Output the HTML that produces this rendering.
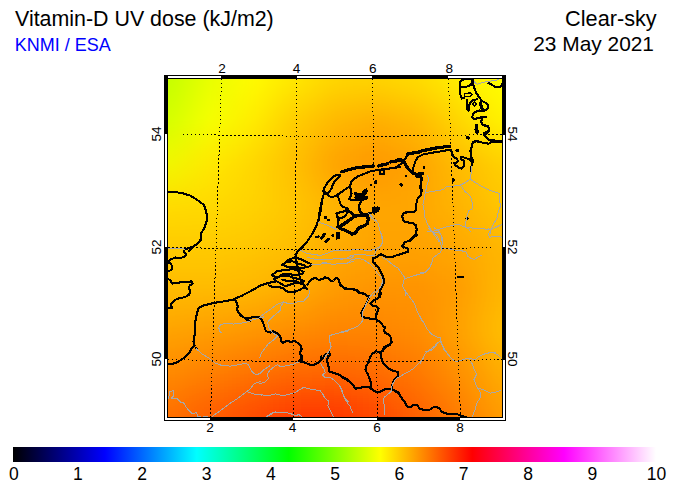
<!DOCTYPE html>
<html><head><meta charset="utf-8"><title>Vitamin-D UV dose</title>
<style>
html,body{margin:0;padding:0;background:#fff;}
body{width:675px;height:490px;overflow:hidden;position:relative;font-family:"Liberation Sans",sans-serif;}
svg{position:absolute;left:0;top:0;}
text{font-family:"Liberation Sans",sans-serif;fill:#000;}
</style></head><body>
<svg width="675" height="490" viewBox="0 0 675 490">
<defs>
<filter id="bl" x="-10%" y="-10%" width="120%" height="120%"><feGaussianBlur stdDeviation="7"/></filter>
<clipPath id="mc"><rect x="168" y="79" width="334" height="338"/></clipPath>
<linearGradient id="cb" x1="0" x2="1" y1="0" y2="0">
<stop offset="0" stop-color="#000000"/>
<stop offset="0.142857" stop-color="#0000ff"/>
<stop offset="0.285714" stop-color="#00ffff"/>
<stop offset="0.428571" stop-color="#00ff00"/>
<stop offset="0.571429" stop-color="#ffff00"/>
<stop offset="0.714286" stop-color="#ff0000"/>
<stop offset="0.857143" stop-color="#ff00ff"/>
<stop offset="1" stop-color="#ffffff"/>
</linearGradient>
</defs>
<!-- titles -->
<text x="15" y="25.5" font-size="21.4">Vitamin-D UV dose (kJ/m2)</text>
<text x="14.7" y="51" font-size="18" style="fill:#0000ff">KNMI / ESA</text>
<text x="656.7" y="25.5" font-size="21.7" text-anchor="end">Clear-sky</text>
<text x="654" y="50.5" font-size="20.9" text-anchor="end">23 May 2021</text>
<!-- map background -->
<g clip-path="url(#mc)">
<rect x="168" y="79" width="334" height="338" fill="#ffb400"/>
<g filter="url(#bl)">
<rect x="144" y="55" width="12.5" height="12.5" fill="#c3ff00"/>
<rect x="156" y="55" width="12.5" height="12.5" fill="#c3ff00"/>
<rect x="168" y="55" width="12.5" height="12.5" fill="#c8ff00"/>
<rect x="180" y="55" width="12.5" height="12.5" fill="#d3ff00"/>
<rect x="192" y="55" width="12.5" height="12.5" fill="#ddff00"/>
<rect x="204" y="55" width="12.5" height="12.5" fill="#e8ff00"/>
<rect x="216" y="55" width="12.5" height="12.5" fill="#effe00"/>
<rect x="228" y="55" width="12.5" height="12.5" fill="#f5fd00"/>
<rect x="240" y="55" width="12.5" height="12.5" fill="#fcfc00"/>
<rect x="252" y="55" width="12.5" height="12.5" fill="#fff900"/>
<rect x="264" y="55" width="12.5" height="12.5" fill="#fff300"/>
<rect x="276" y="55" width="12.5" height="12.5" fill="#ffed00"/>
<rect x="288" y="55" width="12.5" height="12.5" fill="#ffe800"/>
<rect x="300" y="55" width="12.5" height="12.5" fill="#ffe200"/>
<rect x="312" y="55" width="12.5" height="12.5" fill="#ffdd00"/>
<rect x="324" y="55" width="12.5" height="12.5" fill="#ffd800"/>
<rect x="336" y="55" width="12.5" height="12.5" fill="#ffd600"/>
<rect x="348" y="55" width="12.5" height="12.5" fill="#ffd500"/>
<rect x="360" y="55" width="12.5" height="12.5" fill="#ffd500"/>
<rect x="372" y="55" width="12.5" height="12.5" fill="#ffd400"/>
<rect x="384" y="55" width="12.5" height="12.5" fill="#ffd700"/>
<rect x="396" y="55" width="12.5" height="12.5" fill="#ffd900"/>
<rect x="408" y="55" width="12.5" height="12.5" fill="#ffdb00"/>
<rect x="420" y="55" width="12.5" height="12.5" fill="#ffdf00"/>
<rect x="432" y="55" width="12.5" height="12.5" fill="#ffe500"/>
<rect x="444" y="55" width="12.5" height="12.5" fill="#ffea00"/>
<rect x="456" y="55" width="12.5" height="12.5" fill="#ffef00"/>
<rect x="468" y="55" width="12.5" height="12.5" fill="#fff400"/>
<rect x="480" y="55" width="12.5" height="12.5" fill="#fff900"/>
<rect x="492" y="55" width="12.5" height="12.5" fill="#fffd00"/>
<rect x="504" y="55" width="12.5" height="12.5" fill="#ffff00"/>
<rect x="516" y="55" width="12.5" height="12.5" fill="#ffff00"/>
<rect x="144" y="67" width="12.5" height="12.5" fill="#c3ff00"/>
<rect x="156" y="67" width="12.5" height="12.5" fill="#c3ff00"/>
<rect x="168" y="67" width="12.5" height="12.5" fill="#c8ff00"/>
<rect x="180" y="67" width="12.5" height="12.5" fill="#d3ff00"/>
<rect x="192" y="67" width="12.5" height="12.5" fill="#ddff00"/>
<rect x="204" y="67" width="12.5" height="12.5" fill="#e8ff00"/>
<rect x="216" y="67" width="12.5" height="12.5" fill="#effe00"/>
<rect x="228" y="67" width="12.5" height="12.5" fill="#f5fd00"/>
<rect x="240" y="67" width="12.5" height="12.5" fill="#fcfc00"/>
<rect x="252" y="67" width="12.5" height="12.5" fill="#fff900"/>
<rect x="264" y="67" width="12.5" height="12.5" fill="#fff300"/>
<rect x="276" y="67" width="12.5" height="12.5" fill="#ffed00"/>
<rect x="288" y="67" width="12.5" height="12.5" fill="#ffe800"/>
<rect x="300" y="67" width="12.5" height="12.5" fill="#ffe200"/>
<rect x="312" y="67" width="12.5" height="12.5" fill="#ffdd00"/>
<rect x="324" y="67" width="12.5" height="12.5" fill="#ffd800"/>
<rect x="336" y="67" width="12.5" height="12.5" fill="#ffd600"/>
<rect x="348" y="67" width="12.5" height="12.5" fill="#ffd500"/>
<rect x="360" y="67" width="12.5" height="12.5" fill="#ffd500"/>
<rect x="372" y="67" width="12.5" height="12.5" fill="#ffd400"/>
<rect x="384" y="67" width="12.5" height="12.5" fill="#ffd700"/>
<rect x="396" y="67" width="12.5" height="12.5" fill="#ffd900"/>
<rect x="408" y="67" width="12.5" height="12.5" fill="#ffdb00"/>
<rect x="420" y="67" width="12.5" height="12.5" fill="#ffdf00"/>
<rect x="432" y="67" width="12.5" height="12.5" fill="#ffe500"/>
<rect x="444" y="67" width="12.5" height="12.5" fill="#ffea00"/>
<rect x="456" y="67" width="12.5" height="12.5" fill="#ffef00"/>
<rect x="468" y="67" width="12.5" height="12.5" fill="#fff400"/>
<rect x="480" y="67" width="12.5" height="12.5" fill="#fff900"/>
<rect x="492" y="67" width="12.5" height="12.5" fill="#fffd00"/>
<rect x="504" y="67" width="12.5" height="12.5" fill="#ffff00"/>
<rect x="516" y="67" width="12.5" height="12.5" fill="#ffff00"/>
<rect x="144" y="79" width="12.5" height="12.5" fill="#c5ff00"/>
<rect x="156" y="79" width="12.5" height="12.5" fill="#c5ff00"/>
<rect x="168" y="79" width="12.5" height="12.5" fill="#cbff00"/>
<rect x="180" y="79" width="12.5" height="12.5" fill="#d5ff00"/>
<rect x="192" y="79" width="12.5" height="12.5" fill="#e0ff00"/>
<rect x="204" y="79" width="12.5" height="12.5" fill="#eaff00"/>
<rect x="216" y="79" width="12.5" height="12.5" fill="#f0fd00"/>
<rect x="228" y="79" width="12.5" height="12.5" fill="#f6fc00"/>
<rect x="240" y="79" width="12.5" height="12.5" fill="#fcfa00"/>
<rect x="252" y="79" width="12.5" height="12.5" fill="#fff700"/>
<rect x="264" y="79" width="12.5" height="12.5" fill="#fff000"/>
<rect x="276" y="79" width="12.5" height="12.5" fill="#ffea00"/>
<rect x="288" y="79" width="12.5" height="12.5" fill="#ffe400"/>
<rect x="300" y="79" width="12.5" height="12.5" fill="#ffdf00"/>
<rect x="312" y="79" width="12.5" height="12.5" fill="#ffd900"/>
<rect x="324" y="79" width="12.5" height="12.5" fill="#ffd400"/>
<rect x="336" y="79" width="12.5" height="12.5" fill="#ffd100"/>
<rect x="348" y="79" width="12.5" height="12.5" fill="#ffd000"/>
<rect x="360" y="79" width="12.5" height="12.5" fill="#ffd000"/>
<rect x="372" y="79" width="12.5" height="12.5" fill="#ffcf00"/>
<rect x="384" y="79" width="12.5" height="12.5" fill="#ffd100"/>
<rect x="396" y="79" width="12.5" height="12.5" fill="#ffd400"/>
<rect x="408" y="79" width="12.5" height="12.5" fill="#ffd600"/>
<rect x="420" y="79" width="12.5" height="12.5" fill="#ffdb00"/>
<rect x="432" y="79" width="12.5" height="12.5" fill="#ffe000"/>
<rect x="444" y="79" width="12.5" height="12.5" fill="#ffe600"/>
<rect x="456" y="79" width="12.5" height="12.5" fill="#ffec00"/>
<rect x="468" y="79" width="12.5" height="12.5" fill="#fff100"/>
<rect x="480" y="79" width="12.5" height="12.5" fill="#fff600"/>
<rect x="492" y="79" width="12.5" height="12.5" fill="#fffb00"/>
<rect x="504" y="79" width="12.5" height="12.5" fill="#fffd00"/>
<rect x="516" y="79" width="12.5" height="12.5" fill="#fffd00"/>
<rect x="144" y="91" width="12.5" height="12.5" fill="#caff00"/>
<rect x="156" y="91" width="12.5" height="12.5" fill="#caff00"/>
<rect x="168" y="91" width="12.5" height="12.5" fill="#cfff00"/>
<rect x="180" y="91" width="12.5" height="12.5" fill="#daff00"/>
<rect x="192" y="91" width="12.5" height="12.5" fill="#e4ff00"/>
<rect x="204" y="91" width="12.5" height="12.5" fill="#eeff00"/>
<rect x="216" y="91" width="12.5" height="12.5" fill="#f3fc00"/>
<rect x="228" y="91" width="12.5" height="12.5" fill="#f8f900"/>
<rect x="240" y="91" width="12.5" height="12.5" fill="#fdf700"/>
<rect x="252" y="91" width="12.5" height="12.5" fill="#fff200"/>
<rect x="264" y="91" width="12.5" height="12.5" fill="#ffea00"/>
<rect x="276" y="91" width="12.5" height="12.5" fill="#ffe300"/>
<rect x="288" y="91" width="12.5" height="12.5" fill="#ffdc00"/>
<rect x="300" y="91" width="12.5" height="12.5" fill="#ffd700"/>
<rect x="312" y="91" width="12.5" height="12.5" fill="#ffd100"/>
<rect x="324" y="91" width="12.5" height="12.5" fill="#ffcb00"/>
<rect x="336" y="91" width="12.5" height="12.5" fill="#ffc800"/>
<rect x="348" y="91" width="12.5" height="12.5" fill="#ffc700"/>
<rect x="360" y="91" width="12.5" height="12.5" fill="#ffc500"/>
<rect x="372" y="91" width="12.5" height="12.5" fill="#ffc400"/>
<rect x="384" y="91" width="12.5" height="12.5" fill="#ffc700"/>
<rect x="396" y="91" width="12.5" height="12.5" fill="#ffca00"/>
<rect x="408" y="91" width="12.5" height="12.5" fill="#ffcd00"/>
<rect x="420" y="91" width="12.5" height="12.5" fill="#ffd200"/>
<rect x="432" y="91" width="12.5" height="12.5" fill="#ffd800"/>
<rect x="444" y="91" width="12.5" height="12.5" fill="#ffdf00"/>
<rect x="456" y="91" width="12.5" height="12.5" fill="#ffe500"/>
<rect x="468" y="91" width="12.5" height="12.5" fill="#ffeb00"/>
<rect x="480" y="91" width="12.5" height="12.5" fill="#fff100"/>
<rect x="492" y="91" width="12.5" height="12.5" fill="#fff700"/>
<rect x="504" y="91" width="12.5" height="12.5" fill="#fff900"/>
<rect x="516" y="91" width="12.5" height="12.5" fill="#fff900"/>
<rect x="144" y="103" width="12.5" height="12.5" fill="#cfff00"/>
<rect x="156" y="103" width="12.5" height="12.5" fill="#cfff00"/>
<rect x="168" y="103" width="12.5" height="12.5" fill="#d4ff00"/>
<rect x="180" y="103" width="12.5" height="12.5" fill="#deff00"/>
<rect x="192" y="103" width="12.5" height="12.5" fill="#e8ff00"/>
<rect x="204" y="103" width="12.5" height="12.5" fill="#f2ff00"/>
<rect x="216" y="103" width="12.5" height="12.5" fill="#f6fb00"/>
<rect x="228" y="103" width="12.5" height="12.5" fill="#f9f700"/>
<rect x="240" y="103" width="12.5" height="12.5" fill="#fdf300"/>
<rect x="252" y="103" width="12.5" height="12.5" fill="#ffed00"/>
<rect x="264" y="103" width="12.5" height="12.5" fill="#ffe500"/>
<rect x="276" y="103" width="12.5" height="12.5" fill="#ffdd00"/>
<rect x="288" y="103" width="12.5" height="12.5" fill="#ffd500"/>
<rect x="300" y="103" width="12.5" height="12.5" fill="#ffcf00"/>
<rect x="312" y="103" width="12.5" height="12.5" fill="#ffc900"/>
<rect x="324" y="103" width="12.5" height="12.5" fill="#ffc300"/>
<rect x="336" y="103" width="12.5" height="12.5" fill="#ffbf00"/>
<rect x="348" y="103" width="12.5" height="12.5" fill="#ffbd00"/>
<rect x="360" y="103" width="12.5" height="12.5" fill="#ffbb00"/>
<rect x="372" y="103" width="12.5" height="12.5" fill="#ffba00"/>
<rect x="384" y="103" width="12.5" height="12.5" fill="#ffbd00"/>
<rect x="396" y="103" width="12.5" height="12.5" fill="#ffc000"/>
<rect x="408" y="103" width="12.5" height="12.5" fill="#ffc300"/>
<rect x="420" y="103" width="12.5" height="12.5" fill="#ffc900"/>
<rect x="432" y="103" width="12.5" height="12.5" fill="#ffd000"/>
<rect x="444" y="103" width="12.5" height="12.5" fill="#ffd700"/>
<rect x="456" y="103" width="12.5" height="12.5" fill="#ffdf00"/>
<rect x="468" y="103" width="12.5" height="12.5" fill="#ffe600"/>
<rect x="480" y="103" width="12.5" height="12.5" fill="#ffed00"/>
<rect x="492" y="103" width="12.5" height="12.5" fill="#fff300"/>
<rect x="504" y="103" width="12.5" height="12.5" fill="#fff600"/>
<rect x="516" y="103" width="12.5" height="12.5" fill="#fff600"/>
<rect x="144" y="115" width="12.5" height="12.5" fill="#d4ff00"/>
<rect x="156" y="115" width="12.5" height="12.5" fill="#d4ff00"/>
<rect x="168" y="115" width="12.5" height="12.5" fill="#d9ff00"/>
<rect x="180" y="115" width="12.5" height="12.5" fill="#e3ff00"/>
<rect x="192" y="115" width="12.5" height="12.5" fill="#ecff00"/>
<rect x="204" y="115" width="12.5" height="12.5" fill="#f6ff00"/>
<rect x="216" y="115" width="12.5" height="12.5" fill="#f9fa00"/>
<rect x="228" y="115" width="12.5" height="12.5" fill="#fbf400"/>
<rect x="240" y="115" width="12.5" height="12.5" fill="#feef00"/>
<rect x="252" y="115" width="12.5" height="12.5" fill="#ffe800"/>
<rect x="264" y="115" width="12.5" height="12.5" fill="#ffdf00"/>
<rect x="276" y="115" width="12.5" height="12.5" fill="#ffd600"/>
<rect x="288" y="115" width="12.5" height="12.5" fill="#ffcd00"/>
<rect x="300" y="115" width="12.5" height="12.5" fill="#ffc700"/>
<rect x="312" y="115" width="12.5" height="12.5" fill="#ffc100"/>
<rect x="324" y="115" width="12.5" height="12.5" fill="#ffbb00"/>
<rect x="336" y="115" width="12.5" height="12.5" fill="#ffb600"/>
<rect x="348" y="115" width="12.5" height="12.5" fill="#ffb400"/>
<rect x="360" y="115" width="12.5" height="12.5" fill="#ffb100"/>
<rect x="372" y="115" width="12.5" height="12.5" fill="#ffaf00"/>
<rect x="384" y="115" width="12.5" height="12.5" fill="#ffb200"/>
<rect x="396" y="115" width="12.5" height="12.5" fill="#ffb600"/>
<rect x="408" y="115" width="12.5" height="12.5" fill="#ffb900"/>
<rect x="420" y="115" width="12.5" height="12.5" fill="#ffc000"/>
<rect x="432" y="115" width="12.5" height="12.5" fill="#ffc800"/>
<rect x="444" y="115" width="12.5" height="12.5" fill="#ffd000"/>
<rect x="456" y="115" width="12.5" height="12.5" fill="#ffd800"/>
<rect x="468" y="115" width="12.5" height="12.5" fill="#ffe000"/>
<rect x="480" y="115" width="12.5" height="12.5" fill="#ffe800"/>
<rect x="492" y="115" width="12.5" height="12.5" fill="#ffef00"/>
<rect x="504" y="115" width="12.5" height="12.5" fill="#fff200"/>
<rect x="516" y="115" width="12.5" height="12.5" fill="#fff200"/>
<rect x="144" y="127" width="12.5" height="12.5" fill="#dcfd00"/>
<rect x="156" y="127" width="12.5" height="12.5" fill="#dcfd00"/>
<rect x="168" y="127" width="12.5" height="12.5" fill="#e0fc00"/>
<rect x="180" y="127" width="12.5" height="12.5" fill="#e8fb00"/>
<rect x="192" y="127" width="12.5" height="12.5" fill="#f0fa00"/>
<rect x="204" y="127" width="12.5" height="12.5" fill="#f9f800"/>
<rect x="216" y="127" width="12.5" height="12.5" fill="#faf300"/>
<rect x="228" y="127" width="12.5" height="12.5" fill="#fcee00"/>
<rect x="240" y="127" width="12.5" height="12.5" fill="#fee900"/>
<rect x="252" y="127" width="12.5" height="12.5" fill="#ffe200"/>
<rect x="264" y="127" width="12.5" height="12.5" fill="#ffda00"/>
<rect x="276" y="127" width="12.5" height="12.5" fill="#ffd200"/>
<rect x="288" y="127" width="12.5" height="12.5" fill="#ffc900"/>
<rect x="300" y="127" width="12.5" height="12.5" fill="#ffc200"/>
<rect x="312" y="127" width="12.5" height="12.5" fill="#ffbc00"/>
<rect x="324" y="127" width="12.5" height="12.5" fill="#ffb500"/>
<rect x="336" y="127" width="12.5" height="12.5" fill="#ffb000"/>
<rect x="348" y="127" width="12.5" height="12.5" fill="#ffae00"/>
<rect x="360" y="127" width="12.5" height="12.5" fill="#ffab00"/>
<rect x="372" y="127" width="12.5" height="12.5" fill="#ffa900"/>
<rect x="384" y="127" width="12.5" height="12.5" fill="#ffac00"/>
<rect x="396" y="127" width="12.5" height="12.5" fill="#ffaf00"/>
<rect x="408" y="127" width="12.5" height="12.5" fill="#ffb200"/>
<rect x="420" y="127" width="12.5" height="12.5" fill="#ffb900"/>
<rect x="432" y="127" width="12.5" height="12.5" fill="#ffc100"/>
<rect x="444" y="127" width="12.5" height="12.5" fill="#ffc900"/>
<rect x="456" y="127" width="12.5" height="12.5" fill="#ffd000"/>
<rect x="468" y="127" width="12.5" height="12.5" fill="#ffd800"/>
<rect x="480" y="127" width="12.5" height="12.5" fill="#ffdf00"/>
<rect x="492" y="127" width="12.5" height="12.5" fill="#ffe600"/>
<rect x="504" y="127" width="12.5" height="12.5" fill="#ffe800"/>
<rect x="516" y="127" width="12.5" height="12.5" fill="#ffe800"/>
<rect x="144" y="139" width="12.5" height="12.5" fill="#e4fb00"/>
<rect x="156" y="139" width="12.5" height="12.5" fill="#e4fb00"/>
<rect x="168" y="139" width="12.5" height="12.5" fill="#e7fa00"/>
<rect x="180" y="139" width="12.5" height="12.5" fill="#eef700"/>
<rect x="192" y="139" width="12.5" height="12.5" fill="#f5f400"/>
<rect x="204" y="139" width="12.5" height="12.5" fill="#fbf200"/>
<rect x="216" y="139" width="12.5" height="12.5" fill="#fced00"/>
<rect x="228" y="139" width="12.5" height="12.5" fill="#fde800"/>
<rect x="240" y="139" width="12.5" height="12.5" fill="#fee300"/>
<rect x="252" y="139" width="12.5" height="12.5" fill="#ffdd00"/>
<rect x="264" y="139" width="12.5" height="12.5" fill="#ffd500"/>
<rect x="276" y="139" width="12.5" height="12.5" fill="#ffcd00"/>
<rect x="288" y="139" width="12.5" height="12.5" fill="#ffc500"/>
<rect x="300" y="139" width="12.5" height="12.5" fill="#ffbe00"/>
<rect x="312" y="139" width="12.5" height="12.5" fill="#ffb600"/>
<rect x="324" y="139" width="12.5" height="12.5" fill="#ffaf00"/>
<rect x="336" y="139" width="12.5" height="12.5" fill="#ffaa00"/>
<rect x="348" y="139" width="12.5" height="12.5" fill="#ffa700"/>
<rect x="360" y="139" width="12.5" height="12.5" fill="#ffa400"/>
<rect x="372" y="139" width="12.5" height="12.5" fill="#ffa200"/>
<rect x="384" y="139" width="12.5" height="12.5" fill="#ffa500"/>
<rect x="396" y="139" width="12.5" height="12.5" fill="#ffa900"/>
<rect x="408" y="139" width="12.5" height="12.5" fill="#ffac00"/>
<rect x="420" y="139" width="12.5" height="12.5" fill="#ffb200"/>
<rect x="432" y="139" width="12.5" height="12.5" fill="#ffba00"/>
<rect x="444" y="139" width="12.5" height="12.5" fill="#ffc100"/>
<rect x="456" y="139" width="12.5" height="12.5" fill="#ffc900"/>
<rect x="468" y="139" width="12.5" height="12.5" fill="#ffcf00"/>
<rect x="480" y="139" width="12.5" height="12.5" fill="#ffd600"/>
<rect x="492" y="139" width="12.5" height="12.5" fill="#ffdc00"/>
<rect x="504" y="139" width="12.5" height="12.5" fill="#ffdf00"/>
<rect x="516" y="139" width="12.5" height="12.5" fill="#ffdf00"/>
<rect x="144" y="151" width="12.5" height="12.5" fill="#ecf900"/>
<rect x="156" y="151" width="12.5" height="12.5" fill="#ecf900"/>
<rect x="168" y="151" width="12.5" height="12.5" fill="#eff700"/>
<rect x="180" y="151" width="12.5" height="12.5" fill="#f4f300"/>
<rect x="192" y="151" width="12.5" height="12.5" fill="#f9ef00"/>
<rect x="204" y="151" width="12.5" height="12.5" fill="#feeb00"/>
<rect x="216" y="151" width="12.5" height="12.5" fill="#fee700"/>
<rect x="228" y="151" width="12.5" height="12.5" fill="#fee200"/>
<rect x="240" y="151" width="12.5" height="12.5" fill="#ffdd00"/>
<rect x="252" y="151" width="12.5" height="12.5" fill="#ffd700"/>
<rect x="264" y="151" width="12.5" height="12.5" fill="#ffd000"/>
<rect x="276" y="151" width="12.5" height="12.5" fill="#ffc900"/>
<rect x="288" y="151" width="12.5" height="12.5" fill="#ffc100"/>
<rect x="300" y="151" width="12.5" height="12.5" fill="#ffb900"/>
<rect x="312" y="151" width="12.5" height="12.5" fill="#ffb100"/>
<rect x="324" y="151" width="12.5" height="12.5" fill="#ffa900"/>
<rect x="336" y="151" width="12.5" height="12.5" fill="#ffa400"/>
<rect x="348" y="151" width="12.5" height="12.5" fill="#ffa100"/>
<rect x="360" y="151" width="12.5" height="12.5" fill="#ff9e00"/>
<rect x="372" y="151" width="12.5" height="12.5" fill="#ff9c00"/>
<rect x="384" y="151" width="12.5" height="12.5" fill="#ff9f00"/>
<rect x="396" y="151" width="12.5" height="12.5" fill="#ffa200"/>
<rect x="408" y="151" width="12.5" height="12.5" fill="#ffa500"/>
<rect x="420" y="151" width="12.5" height="12.5" fill="#ffab00"/>
<rect x="432" y="151" width="12.5" height="12.5" fill="#ffb200"/>
<rect x="444" y="151" width="12.5" height="12.5" fill="#ffba00"/>
<rect x="456" y="151" width="12.5" height="12.5" fill="#ffc100"/>
<rect x="468" y="151" width="12.5" height="12.5" fill="#ffc700"/>
<rect x="480" y="151" width="12.5" height="12.5" fill="#ffcd00"/>
<rect x="492" y="151" width="12.5" height="12.5" fill="#ffd300"/>
<rect x="504" y="151" width="12.5" height="12.5" fill="#ffd500"/>
<rect x="516" y="151" width="12.5" height="12.5" fill="#ffd500"/>
<rect x="144" y="163" width="12.5" height="12.5" fill="#f2f400"/>
<rect x="156" y="163" width="12.5" height="12.5" fill="#f2f400"/>
<rect x="168" y="163" width="12.5" height="12.5" fill="#f4f200"/>
<rect x="180" y="163" width="12.5" height="12.5" fill="#f8ee00"/>
<rect x="192" y="163" width="12.5" height="12.5" fill="#fbea00"/>
<rect x="204" y="163" width="12.5" height="12.5" fill="#ffe600"/>
<rect x="216" y="163" width="12.5" height="12.5" fill="#ffe200"/>
<rect x="228" y="163" width="12.5" height="12.5" fill="#ffdd00"/>
<rect x="240" y="163" width="12.5" height="12.5" fill="#ffd900"/>
<rect x="252" y="163" width="12.5" height="12.5" fill="#ffd400"/>
<rect x="264" y="163" width="12.5" height="12.5" fill="#ffcd00"/>
<rect x="276" y="163" width="12.5" height="12.5" fill="#ffc700"/>
<rect x="288" y="163" width="12.5" height="12.5" fill="#ffc000"/>
<rect x="300" y="163" width="12.5" height="12.5" fill="#ffb800"/>
<rect x="312" y="163" width="12.5" height="12.5" fill="#ffb000"/>
<rect x="324" y="163" width="12.5" height="12.5" fill="#ffa800"/>
<rect x="336" y="163" width="12.5" height="12.5" fill="#ffa300"/>
<rect x="348" y="163" width="12.5" height="12.5" fill="#ffa000"/>
<rect x="360" y="163" width="12.5" height="12.5" fill="#ff9d00"/>
<rect x="372" y="163" width="12.5" height="12.5" fill="#ff9a00"/>
<rect x="384" y="163" width="12.5" height="12.5" fill="#ff9d00"/>
<rect x="396" y="163" width="12.5" height="12.5" fill="#ffa000"/>
<rect x="408" y="163" width="12.5" height="12.5" fill="#ffa200"/>
<rect x="420" y="163" width="12.5" height="12.5" fill="#ffa800"/>
<rect x="432" y="163" width="12.5" height="12.5" fill="#ffaf00"/>
<rect x="444" y="163" width="12.5" height="12.5" fill="#ffb500"/>
<rect x="456" y="163" width="12.5" height="12.5" fill="#ffbc00"/>
<rect x="468" y="163" width="12.5" height="12.5" fill="#ffc100"/>
<rect x="480" y="163" width="12.5" height="12.5" fill="#ffc700"/>
<rect x="492" y="163" width="12.5" height="12.5" fill="#ffcd00"/>
<rect x="504" y="163" width="12.5" height="12.5" fill="#ffcf00"/>
<rect x="516" y="163" width="12.5" height="12.5" fill="#ffcf00"/>
<rect x="144" y="175" width="12.5" height="12.5" fill="#f6ec00"/>
<rect x="156" y="175" width="12.5" height="12.5" fill="#f6ec00"/>
<rect x="168" y="175" width="12.5" height="12.5" fill="#f8eb00"/>
<rect x="180" y="175" width="12.5" height="12.5" fill="#fae800"/>
<rect x="192" y="175" width="12.5" height="12.5" fill="#fde500"/>
<rect x="204" y="175" width="12.5" height="12.5" fill="#ffe200"/>
<rect x="216" y="175" width="12.5" height="12.5" fill="#ffde00"/>
<rect x="228" y="175" width="12.5" height="12.5" fill="#ffdb00"/>
<rect x="240" y="175" width="12.5" height="12.5" fill="#ffd700"/>
<rect x="252" y="175" width="12.5" height="12.5" fill="#ffd300"/>
<rect x="264" y="175" width="12.5" height="12.5" fill="#ffcd00"/>
<rect x="276" y="175" width="12.5" height="12.5" fill="#ffc800"/>
<rect x="288" y="175" width="12.5" height="12.5" fill="#ffc200"/>
<rect x="300" y="175" width="12.5" height="12.5" fill="#ffbb00"/>
<rect x="312" y="175" width="12.5" height="12.5" fill="#ffb400"/>
<rect x="324" y="175" width="12.5" height="12.5" fill="#ffad00"/>
<rect x="336" y="175" width="12.5" height="12.5" fill="#ffa800"/>
<rect x="348" y="175" width="12.5" height="12.5" fill="#ffa400"/>
<rect x="360" y="175" width="12.5" height="12.5" fill="#ffa100"/>
<rect x="372" y="175" width="12.5" height="12.5" fill="#ff9e00"/>
<rect x="384" y="175" width="12.5" height="12.5" fill="#ffa000"/>
<rect x="396" y="175" width="12.5" height="12.5" fill="#ffa200"/>
<rect x="408" y="175" width="12.5" height="12.5" fill="#ffa400"/>
<rect x="420" y="175" width="12.5" height="12.5" fill="#ffa800"/>
<rect x="432" y="175" width="12.5" height="12.5" fill="#ffae00"/>
<rect x="444" y="175" width="12.5" height="12.5" fill="#ffb400"/>
<rect x="456" y="175" width="12.5" height="12.5" fill="#ffba00"/>
<rect x="468" y="175" width="12.5" height="12.5" fill="#ffbf00"/>
<rect x="480" y="175" width="12.5" height="12.5" fill="#ffc500"/>
<rect x="492" y="175" width="12.5" height="12.5" fill="#ffca00"/>
<rect x="504" y="175" width="12.5" height="12.5" fill="#ffcc00"/>
<rect x="516" y="175" width="12.5" height="12.5" fill="#ffcc00"/>
<rect x="144" y="187" width="12.5" height="12.5" fill="#fae400"/>
<rect x="156" y="187" width="12.5" height="12.5" fill="#fae400"/>
<rect x="168" y="187" width="12.5" height="12.5" fill="#fbe300"/>
<rect x="180" y="187" width="12.5" height="12.5" fill="#fce100"/>
<rect x="192" y="187" width="12.5" height="12.5" fill="#fee000"/>
<rect x="204" y="187" width="12.5" height="12.5" fill="#ffde00"/>
<rect x="216" y="187" width="12.5" height="12.5" fill="#ffdb00"/>
<rect x="228" y="187" width="12.5" height="12.5" fill="#ffd800"/>
<rect x="240" y="187" width="12.5" height="12.5" fill="#ffd500"/>
<rect x="252" y="187" width="12.5" height="12.5" fill="#ffd200"/>
<rect x="264" y="187" width="12.5" height="12.5" fill="#ffcd00"/>
<rect x="276" y="187" width="12.5" height="12.5" fill="#ffc800"/>
<rect x="288" y="187" width="12.5" height="12.5" fill="#ffc400"/>
<rect x="300" y="187" width="12.5" height="12.5" fill="#ffbd00"/>
<rect x="312" y="187" width="12.5" height="12.5" fill="#ffb700"/>
<rect x="324" y="187" width="12.5" height="12.5" fill="#ffb100"/>
<rect x="336" y="187" width="12.5" height="12.5" fill="#ffac00"/>
<rect x="348" y="187" width="12.5" height="12.5" fill="#ffa800"/>
<rect x="360" y="187" width="12.5" height="12.5" fill="#ffa500"/>
<rect x="372" y="187" width="12.5" height="12.5" fill="#ffa100"/>
<rect x="384" y="187" width="12.5" height="12.5" fill="#ffa200"/>
<rect x="396" y="187" width="12.5" height="12.5" fill="#ffa400"/>
<rect x="408" y="187" width="12.5" height="12.5" fill="#ffa500"/>
<rect x="420" y="187" width="12.5" height="12.5" fill="#ffa800"/>
<rect x="432" y="187" width="12.5" height="12.5" fill="#ffad00"/>
<rect x="444" y="187" width="12.5" height="12.5" fill="#ffb200"/>
<rect x="456" y="187" width="12.5" height="12.5" fill="#ffb700"/>
<rect x="468" y="187" width="12.5" height="12.5" fill="#ffbd00"/>
<rect x="480" y="187" width="12.5" height="12.5" fill="#ffc200"/>
<rect x="492" y="187" width="12.5" height="12.5" fill="#ffc700"/>
<rect x="504" y="187" width="12.5" height="12.5" fill="#ffc900"/>
<rect x="516" y="187" width="12.5" height="12.5" fill="#ffc900"/>
<rect x="144" y="199" width="12.5" height="12.5" fill="#ffdd00"/>
<rect x="156" y="199" width="12.5" height="12.5" fill="#ffdd00"/>
<rect x="168" y="199" width="12.5" height="12.5" fill="#ffdc00"/>
<rect x="180" y="199" width="12.5" height="12.5" fill="#ffdb00"/>
<rect x="192" y="199" width="12.5" height="12.5" fill="#ffda00"/>
<rect x="204" y="199" width="12.5" height="12.5" fill="#ffd900"/>
<rect x="216" y="199" width="12.5" height="12.5" fill="#ffd700"/>
<rect x="228" y="199" width="12.5" height="12.5" fill="#ffd500"/>
<rect x="240" y="199" width="12.5" height="12.5" fill="#ffd300"/>
<rect x="252" y="199" width="12.5" height="12.5" fill="#ffd000"/>
<rect x="264" y="199" width="12.5" height="12.5" fill="#ffcd00"/>
<rect x="276" y="199" width="12.5" height="12.5" fill="#ffc900"/>
<rect x="288" y="199" width="12.5" height="12.5" fill="#ffc500"/>
<rect x="300" y="199" width="12.5" height="12.5" fill="#ffc000"/>
<rect x="312" y="199" width="12.5" height="12.5" fill="#ffbb00"/>
<rect x="324" y="199" width="12.5" height="12.5" fill="#ffb600"/>
<rect x="336" y="199" width="12.5" height="12.5" fill="#ffb100"/>
<rect x="348" y="199" width="12.5" height="12.5" fill="#ffad00"/>
<rect x="360" y="199" width="12.5" height="12.5" fill="#ffa900"/>
<rect x="372" y="199" width="12.5" height="12.5" fill="#ffa500"/>
<rect x="384" y="199" width="12.5" height="12.5" fill="#ffa500"/>
<rect x="396" y="199" width="12.5" height="12.5" fill="#ffa500"/>
<rect x="408" y="199" width="12.5" height="12.5" fill="#ffa600"/>
<rect x="420" y="199" width="12.5" height="12.5" fill="#ffa900"/>
<rect x="432" y="199" width="12.5" height="12.5" fill="#ffad00"/>
<rect x="444" y="199" width="12.5" height="12.5" fill="#ffb100"/>
<rect x="456" y="199" width="12.5" height="12.5" fill="#ffb500"/>
<rect x="468" y="199" width="12.5" height="12.5" fill="#ffba00"/>
<rect x="480" y="199" width="12.5" height="12.5" fill="#ffbf00"/>
<rect x="492" y="199" width="12.5" height="12.5" fill="#ffc500"/>
<rect x="504" y="199" width="12.5" height="12.5" fill="#ffc600"/>
<rect x="516" y="199" width="12.5" height="12.5" fill="#ffc600"/>
<rect x="144" y="211" width="12.5" height="12.5" fill="#ffd700"/>
<rect x="156" y="211" width="12.5" height="12.5" fill="#ffd700"/>
<rect x="168" y="211" width="12.5" height="12.5" fill="#ffd700"/>
<rect x="180" y="211" width="12.5" height="12.5" fill="#ffd600"/>
<rect x="192" y="211" width="12.5" height="12.5" fill="#ffd600"/>
<rect x="204" y="211" width="12.5" height="12.5" fill="#ffd500"/>
<rect x="216" y="211" width="12.5" height="12.5" fill="#ffd300"/>
<rect x="228" y="211" width="12.5" height="12.5" fill="#ffd200"/>
<rect x="240" y="211" width="12.5" height="12.5" fill="#ffd000"/>
<rect x="252" y="211" width="12.5" height="12.5" fill="#ffcd00"/>
<rect x="264" y="211" width="12.5" height="12.5" fill="#ffca00"/>
<rect x="276" y="211" width="12.5" height="12.5" fill="#ffc700"/>
<rect x="288" y="211" width="12.5" height="12.5" fill="#ffc300"/>
<rect x="300" y="211" width="12.5" height="12.5" fill="#ffbe00"/>
<rect x="312" y="211" width="12.5" height="12.5" fill="#ffb900"/>
<rect x="324" y="211" width="12.5" height="12.5" fill="#ffb400"/>
<rect x="336" y="211" width="12.5" height="12.5" fill="#ffb000"/>
<rect x="348" y="211" width="12.5" height="12.5" fill="#ffac00"/>
<rect x="360" y="211" width="12.5" height="12.5" fill="#ffa800"/>
<rect x="372" y="211" width="12.5" height="12.5" fill="#ffa400"/>
<rect x="384" y="211" width="12.5" height="12.5" fill="#ffa500"/>
<rect x="396" y="211" width="12.5" height="12.5" fill="#ffa500"/>
<rect x="408" y="211" width="12.5" height="12.5" fill="#ffa500"/>
<rect x="420" y="211" width="12.5" height="12.5" fill="#ffa700"/>
<rect x="432" y="211" width="12.5" height="12.5" fill="#ffab00"/>
<rect x="444" y="211" width="12.5" height="12.5" fill="#ffae00"/>
<rect x="456" y="211" width="12.5" height="12.5" fill="#ffb200"/>
<rect x="468" y="211" width="12.5" height="12.5" fill="#ffb700"/>
<rect x="480" y="211" width="12.5" height="12.5" fill="#ffbb00"/>
<rect x="492" y="211" width="12.5" height="12.5" fill="#ffc000"/>
<rect x="504" y="211" width="12.5" height="12.5" fill="#ffc200"/>
<rect x="516" y="211" width="12.5" height="12.5" fill="#ffc200"/>
<rect x="144" y="223" width="12.5" height="12.5" fill="#ffd200"/>
<rect x="156" y="223" width="12.5" height="12.5" fill="#ffd200"/>
<rect x="168" y="223" width="12.5" height="12.5" fill="#ffd200"/>
<rect x="180" y="223" width="12.5" height="12.5" fill="#ffd200"/>
<rect x="192" y="223" width="12.5" height="12.5" fill="#ffd100"/>
<rect x="204" y="223" width="12.5" height="12.5" fill="#ffd100"/>
<rect x="216" y="223" width="12.5" height="12.5" fill="#ffcf00"/>
<rect x="228" y="223" width="12.5" height="12.5" fill="#ffce00"/>
<rect x="240" y="223" width="12.5" height="12.5" fill="#ffcc00"/>
<rect x="252" y="223" width="12.5" height="12.5" fill="#ffca00"/>
<rect x="264" y="223" width="12.5" height="12.5" fill="#ffc700"/>
<rect x="276" y="223" width="12.5" height="12.5" fill="#ffc400"/>
<rect x="288" y="223" width="12.5" height="12.5" fill="#ffc100"/>
<rect x="300" y="223" width="12.5" height="12.5" fill="#ffbc00"/>
<rect x="312" y="223" width="12.5" height="12.5" fill="#ffb700"/>
<rect x="324" y="223" width="12.5" height="12.5" fill="#ffb200"/>
<rect x="336" y="223" width="12.5" height="12.5" fill="#ffae00"/>
<rect x="348" y="223" width="12.5" height="12.5" fill="#ffaa00"/>
<rect x="360" y="223" width="12.5" height="12.5" fill="#ffa700"/>
<rect x="372" y="223" width="12.5" height="12.5" fill="#ffa400"/>
<rect x="384" y="223" width="12.5" height="12.5" fill="#ffa400"/>
<rect x="396" y="223" width="12.5" height="12.5" fill="#ffa400"/>
<rect x="408" y="223" width="12.5" height="12.5" fill="#ffa400"/>
<rect x="420" y="223" width="12.5" height="12.5" fill="#ffa600"/>
<rect x="432" y="223" width="12.5" height="12.5" fill="#ffa800"/>
<rect x="444" y="223" width="12.5" height="12.5" fill="#ffab00"/>
<rect x="456" y="223" width="12.5" height="12.5" fill="#ffae00"/>
<rect x="468" y="223" width="12.5" height="12.5" fill="#ffb300"/>
<rect x="480" y="223" width="12.5" height="12.5" fill="#ffb700"/>
<rect x="492" y="223" width="12.5" height="12.5" fill="#ffbc00"/>
<rect x="504" y="223" width="12.5" height="12.5" fill="#ffbd00"/>
<rect x="516" y="223" width="12.5" height="12.5" fill="#ffbd00"/>
<rect x="144" y="235" width="12.5" height="12.5" fill="#ffcd00"/>
<rect x="156" y="235" width="12.5" height="12.5" fill="#ffcd00"/>
<rect x="168" y="235" width="12.5" height="12.5" fill="#ffcd00"/>
<rect x="180" y="235" width="12.5" height="12.5" fill="#ffcd00"/>
<rect x="192" y="235" width="12.5" height="12.5" fill="#ffcd00"/>
<rect x="204" y="235" width="12.5" height="12.5" fill="#ffcc00"/>
<rect x="216" y="235" width="12.5" height="12.5" fill="#ffcb00"/>
<rect x="228" y="235" width="12.5" height="12.5" fill="#ffca00"/>
<rect x="240" y="235" width="12.5" height="12.5" fill="#ffc900"/>
<rect x="252" y="235" width="12.5" height="12.5" fill="#ffc700"/>
<rect x="264" y="235" width="12.5" height="12.5" fill="#ffc400"/>
<rect x="276" y="235" width="12.5" height="12.5" fill="#ffc200"/>
<rect x="288" y="235" width="12.5" height="12.5" fill="#ffbf00"/>
<rect x="300" y="235" width="12.5" height="12.5" fill="#ffba00"/>
<rect x="312" y="235" width="12.5" height="12.5" fill="#ffb500"/>
<rect x="324" y="235" width="12.5" height="12.5" fill="#ffaf00"/>
<rect x="336" y="235" width="12.5" height="12.5" fill="#ffac00"/>
<rect x="348" y="235" width="12.5" height="12.5" fill="#ffa900"/>
<rect x="360" y="235" width="12.5" height="12.5" fill="#ffa600"/>
<rect x="372" y="235" width="12.5" height="12.5" fill="#ffa300"/>
<rect x="384" y="235" width="12.5" height="12.5" fill="#ffa300"/>
<rect x="396" y="235" width="12.5" height="12.5" fill="#ffa300"/>
<rect x="408" y="235" width="12.5" height="12.5" fill="#ffa300"/>
<rect x="420" y="235" width="12.5" height="12.5" fill="#ffa400"/>
<rect x="432" y="235" width="12.5" height="12.5" fill="#ffa600"/>
<rect x="444" y="235" width="12.5" height="12.5" fill="#ffa800"/>
<rect x="456" y="235" width="12.5" height="12.5" fill="#ffab00"/>
<rect x="468" y="235" width="12.5" height="12.5" fill="#ffaf00"/>
<rect x="480" y="235" width="12.5" height="12.5" fill="#ffb300"/>
<rect x="492" y="235" width="12.5" height="12.5" fill="#ffb700"/>
<rect x="504" y="235" width="12.5" height="12.5" fill="#ffb900"/>
<rect x="516" y="235" width="12.5" height="12.5" fill="#ffb900"/>
<rect x="144" y="247" width="12.5" height="12.5" fill="#ffc800"/>
<rect x="156" y="247" width="12.5" height="12.5" fill="#ffc800"/>
<rect x="168" y="247" width="12.5" height="12.5" fill="#ffc800"/>
<rect x="180" y="247" width="12.5" height="12.5" fill="#ffc800"/>
<rect x="192" y="247" width="12.5" height="12.5" fill="#ffc800"/>
<rect x="204" y="247" width="12.5" height="12.5" fill="#ffc800"/>
<rect x="216" y="247" width="12.5" height="12.5" fill="#ffc700"/>
<rect x="228" y="247" width="12.5" height="12.5" fill="#ffc600"/>
<rect x="240" y="247" width="12.5" height="12.5" fill="#ffc500"/>
<rect x="252" y="247" width="12.5" height="12.5" fill="#ffc300"/>
<rect x="264" y="247" width="12.5" height="12.5" fill="#ffc000"/>
<rect x="276" y="247" width="12.5" height="12.5" fill="#ffbe00"/>
<rect x="288" y="247" width="12.5" height="12.5" fill="#ffbb00"/>
<rect x="300" y="247" width="12.5" height="12.5" fill="#ffb600"/>
<rect x="312" y="247" width="12.5" height="12.5" fill="#ffb100"/>
<rect x="324" y="247" width="12.5" height="12.5" fill="#ffac00"/>
<rect x="336" y="247" width="12.5" height="12.5" fill="#ffa800"/>
<rect x="348" y="247" width="12.5" height="12.5" fill="#ffa600"/>
<rect x="360" y="247" width="12.5" height="12.5" fill="#ffa300"/>
<rect x="372" y="247" width="12.5" height="12.5" fill="#ffa100"/>
<rect x="384" y="247" width="12.5" height="12.5" fill="#ffa100"/>
<rect x="396" y="247" width="12.5" height="12.5" fill="#ffa100"/>
<rect x="408" y="247" width="12.5" height="12.5" fill="#ffa000"/>
<rect x="420" y="247" width="12.5" height="12.5" fill="#ffa100"/>
<rect x="432" y="247" width="12.5" height="12.5" fill="#ffa300"/>
<rect x="444" y="247" width="12.5" height="12.5" fill="#ffa500"/>
<rect x="456" y="247" width="12.5" height="12.5" fill="#ffa700"/>
<rect x="468" y="247" width="12.5" height="12.5" fill="#ffac00"/>
<rect x="480" y="247" width="12.5" height="12.5" fill="#ffb000"/>
<rect x="492" y="247" width="12.5" height="12.5" fill="#ffb500"/>
<rect x="504" y="247" width="12.5" height="12.5" fill="#ffb600"/>
<rect x="516" y="247" width="12.5" height="12.5" fill="#ffb600"/>
<rect x="144" y="259" width="12.5" height="12.5" fill="#ffc400"/>
<rect x="156" y="259" width="12.5" height="12.5" fill="#ffc400"/>
<rect x="168" y="259" width="12.5" height="12.5" fill="#ffc400"/>
<rect x="180" y="259" width="12.5" height="12.5" fill="#ffc400"/>
<rect x="192" y="259" width="12.5" height="12.5" fill="#ffc400"/>
<rect x="204" y="259" width="12.5" height="12.5" fill="#ffc400"/>
<rect x="216" y="259" width="12.5" height="12.5" fill="#ffc200"/>
<rect x="228" y="259" width="12.5" height="12.5" fill="#ffc100"/>
<rect x="240" y="259" width="12.5" height="12.5" fill="#ffc000"/>
<rect x="252" y="259" width="12.5" height="12.5" fill="#ffbe00"/>
<rect x="264" y="259" width="12.5" height="12.5" fill="#ffbc00"/>
<rect x="276" y="259" width="12.5" height="12.5" fill="#ffb900"/>
<rect x="288" y="259" width="12.5" height="12.5" fill="#ffb600"/>
<rect x="300" y="259" width="12.5" height="12.5" fill="#ffb100"/>
<rect x="312" y="259" width="12.5" height="12.5" fill="#ffac00"/>
<rect x="324" y="259" width="12.5" height="12.5" fill="#ffa700"/>
<rect x="336" y="259" width="12.5" height="12.5" fill="#ffa300"/>
<rect x="348" y="259" width="12.5" height="12.5" fill="#ffa100"/>
<rect x="360" y="259" width="12.5" height="12.5" fill="#ff9f00"/>
<rect x="372" y="259" width="12.5" height="12.5" fill="#ff9d00"/>
<rect x="384" y="259" width="12.5" height="12.5" fill="#ff9d00"/>
<rect x="396" y="259" width="12.5" height="12.5" fill="#ff9c00"/>
<rect x="408" y="259" width="12.5" height="12.5" fill="#ff9c00"/>
<rect x="420" y="259" width="12.5" height="12.5" fill="#ff9d00"/>
<rect x="432" y="259" width="12.5" height="12.5" fill="#ffa000"/>
<rect x="444" y="259" width="12.5" height="12.5" fill="#ffa200"/>
<rect x="456" y="259" width="12.5" height="12.5" fill="#ffa400"/>
<rect x="468" y="259" width="12.5" height="12.5" fill="#ffaa00"/>
<rect x="480" y="259" width="12.5" height="12.5" fill="#ffaf00"/>
<rect x="492" y="259" width="12.5" height="12.5" fill="#ffb400"/>
<rect x="504" y="259" width="12.5" height="12.5" fill="#ffb600"/>
<rect x="516" y="259" width="12.5" height="12.5" fill="#ffb600"/>
<rect x="144" y="271" width="12.5" height="12.5" fill="#ffbf00"/>
<rect x="156" y="271" width="12.5" height="12.5" fill="#ffbf00"/>
<rect x="168" y="271" width="12.5" height="12.5" fill="#ffbf00"/>
<rect x="180" y="271" width="12.5" height="12.5" fill="#ffbf00"/>
<rect x="192" y="271" width="12.5" height="12.5" fill="#ffbf00"/>
<rect x="204" y="271" width="12.5" height="12.5" fill="#ffbf00"/>
<rect x="216" y="271" width="12.5" height="12.5" fill="#ffbe00"/>
<rect x="228" y="271" width="12.5" height="12.5" fill="#ffbd00"/>
<rect x="240" y="271" width="12.5" height="12.5" fill="#ffbc00"/>
<rect x="252" y="271" width="12.5" height="12.5" fill="#ffba00"/>
<rect x="264" y="271" width="12.5" height="12.5" fill="#ffb700"/>
<rect x="276" y="271" width="12.5" height="12.5" fill="#ffb400"/>
<rect x="288" y="271" width="12.5" height="12.5" fill="#ffb100"/>
<rect x="300" y="271" width="12.5" height="12.5" fill="#ffac00"/>
<rect x="312" y="271" width="12.5" height="12.5" fill="#ffa700"/>
<rect x="324" y="271" width="12.5" height="12.5" fill="#ffa200"/>
<rect x="336" y="271" width="12.5" height="12.5" fill="#ff9e00"/>
<rect x="348" y="271" width="12.5" height="12.5" fill="#ff9c00"/>
<rect x="360" y="271" width="12.5" height="12.5" fill="#ff9a00"/>
<rect x="372" y="271" width="12.5" height="12.5" fill="#ff9900"/>
<rect x="384" y="271" width="12.5" height="12.5" fill="#ff9800"/>
<rect x="396" y="271" width="12.5" height="12.5" fill="#ff9800"/>
<rect x="408" y="271" width="12.5" height="12.5" fill="#ff9800"/>
<rect x="420" y="271" width="12.5" height="12.5" fill="#ff9900"/>
<rect x="432" y="271" width="12.5" height="12.5" fill="#ff9c00"/>
<rect x="444" y="271" width="12.5" height="12.5" fill="#ff9e00"/>
<rect x="456" y="271" width="12.5" height="12.5" fill="#ffa100"/>
<rect x="468" y="271" width="12.5" height="12.5" fill="#ffa800"/>
<rect x="480" y="271" width="12.5" height="12.5" fill="#ffae00"/>
<rect x="492" y="271" width="12.5" height="12.5" fill="#ffb400"/>
<rect x="504" y="271" width="12.5" height="12.5" fill="#ffb600"/>
<rect x="516" y="271" width="12.5" height="12.5" fill="#ffb600"/>
<rect x="144" y="283" width="12.5" height="12.5" fill="#ffba00"/>
<rect x="156" y="283" width="12.5" height="12.5" fill="#ffba00"/>
<rect x="168" y="283" width="12.5" height="12.5" fill="#ffba00"/>
<rect x="180" y="283" width="12.5" height="12.5" fill="#ffba00"/>
<rect x="192" y="283" width="12.5" height="12.5" fill="#ffba00"/>
<rect x="204" y="283" width="12.5" height="12.5" fill="#ffba00"/>
<rect x="216" y="283" width="12.5" height="12.5" fill="#ffb900"/>
<rect x="228" y="283" width="12.5" height="12.5" fill="#ffb800"/>
<rect x="240" y="283" width="12.5" height="12.5" fill="#ffb700"/>
<rect x="252" y="283" width="12.5" height="12.5" fill="#ffb500"/>
<rect x="264" y="283" width="12.5" height="12.5" fill="#ffb200"/>
<rect x="276" y="283" width="12.5" height="12.5" fill="#ffaf00"/>
<rect x="288" y="283" width="12.5" height="12.5" fill="#ffac00"/>
<rect x="300" y="283" width="12.5" height="12.5" fill="#ffa700"/>
<rect x="312" y="283" width="12.5" height="12.5" fill="#ffa200"/>
<rect x="324" y="283" width="12.5" height="12.5" fill="#ff9d00"/>
<rect x="336" y="283" width="12.5" height="12.5" fill="#ff9900"/>
<rect x="348" y="283" width="12.5" height="12.5" fill="#ff9800"/>
<rect x="360" y="283" width="12.5" height="12.5" fill="#ff9600"/>
<rect x="372" y="283" width="12.5" height="12.5" fill="#ff9400"/>
<rect x="384" y="283" width="12.5" height="12.5" fill="#ff9400"/>
<rect x="396" y="283" width="12.5" height="12.5" fill="#ff9400"/>
<rect x="408" y="283" width="12.5" height="12.5" fill="#ff9300"/>
<rect x="420" y="283" width="12.5" height="12.5" fill="#ff9500"/>
<rect x="432" y="283" width="12.5" height="12.5" fill="#ff9800"/>
<rect x="444" y="283" width="12.5" height="12.5" fill="#ff9b00"/>
<rect x="456" y="283" width="12.5" height="12.5" fill="#ff9e00"/>
<rect x="468" y="283" width="12.5" height="12.5" fill="#ffa600"/>
<rect x="480" y="283" width="12.5" height="12.5" fill="#ffad00"/>
<rect x="492" y="283" width="12.5" height="12.5" fill="#ffb400"/>
<rect x="504" y="283" width="12.5" height="12.5" fill="#ffb600"/>
<rect x="516" y="283" width="12.5" height="12.5" fill="#ffb600"/>
<rect x="144" y="295" width="12.5" height="12.5" fill="#ffb400"/>
<rect x="156" y="295" width="12.5" height="12.5" fill="#ffb400"/>
<rect x="168" y="295" width="12.5" height="12.5" fill="#ffb400"/>
<rect x="180" y="295" width="12.5" height="12.5" fill="#ffb300"/>
<rect x="192" y="295" width="12.5" height="12.5" fill="#ffb300"/>
<rect x="204" y="295" width="12.5" height="12.5" fill="#ffb200"/>
<rect x="216" y="295" width="12.5" height="12.5" fill="#ffb100"/>
<rect x="228" y="295" width="12.5" height="12.5" fill="#ffb000"/>
<rect x="240" y="295" width="12.5" height="12.5" fill="#ffae00"/>
<rect x="252" y="295" width="12.5" height="12.5" fill="#ffac00"/>
<rect x="264" y="295" width="12.5" height="12.5" fill="#ffa900"/>
<rect x="276" y="295" width="12.5" height="12.5" fill="#ffa600"/>
<rect x="288" y="295" width="12.5" height="12.5" fill="#ffa300"/>
<rect x="300" y="295" width="12.5" height="12.5" fill="#ff9f00"/>
<rect x="312" y="295" width="12.5" height="12.5" fill="#ff9a00"/>
<rect x="324" y="295" width="12.5" height="12.5" fill="#ff9600"/>
<rect x="336" y="295" width="12.5" height="12.5" fill="#ff9400"/>
<rect x="348" y="295" width="12.5" height="12.5" fill="#ff9200"/>
<rect x="360" y="295" width="12.5" height="12.5" fill="#ff9100"/>
<rect x="372" y="295" width="12.5" height="12.5" fill="#ff9000"/>
<rect x="384" y="295" width="12.5" height="12.5" fill="#ff9000"/>
<rect x="396" y="295" width="12.5" height="12.5" fill="#ff9100"/>
<rect x="408" y="295" width="12.5" height="12.5" fill="#ff9100"/>
<rect x="420" y="295" width="12.5" height="12.5" fill="#ff9400"/>
<rect x="432" y="295" width="12.5" height="12.5" fill="#ff9700"/>
<rect x="444" y="295" width="12.5" height="12.5" fill="#ff9b00"/>
<rect x="456" y="295" width="12.5" height="12.5" fill="#ffa000"/>
<rect x="468" y="295" width="12.5" height="12.5" fill="#ffa700"/>
<rect x="480" y="295" width="12.5" height="12.5" fill="#ffae00"/>
<rect x="492" y="295" width="12.5" height="12.5" fill="#ffb600"/>
<rect x="504" y="295" width="12.5" height="12.5" fill="#ffb800"/>
<rect x="516" y="295" width="12.5" height="12.5" fill="#ffb800"/>
<rect x="144" y="307" width="12.5" height="12.5" fill="#ffad00"/>
<rect x="156" y="307" width="12.5" height="12.5" fill="#ffad00"/>
<rect x="168" y="307" width="12.5" height="12.5" fill="#ffad00"/>
<rect x="180" y="307" width="12.5" height="12.5" fill="#ffac00"/>
<rect x="192" y="307" width="12.5" height="12.5" fill="#ffab00"/>
<rect x="204" y="307" width="12.5" height="12.5" fill="#ffaa00"/>
<rect x="216" y="307" width="12.5" height="12.5" fill="#ffa900"/>
<rect x="228" y="307" width="12.5" height="12.5" fill="#ffa700"/>
<rect x="240" y="307" width="12.5" height="12.5" fill="#ffa500"/>
<rect x="252" y="307" width="12.5" height="12.5" fill="#ffa300"/>
<rect x="264" y="307" width="12.5" height="12.5" fill="#ffa000"/>
<rect x="276" y="307" width="12.5" height="12.5" fill="#ff9d00"/>
<rect x="288" y="307" width="12.5" height="12.5" fill="#ff9a00"/>
<rect x="300" y="307" width="12.5" height="12.5" fill="#ff9700"/>
<rect x="312" y="307" width="12.5" height="12.5" fill="#ff9300"/>
<rect x="324" y="307" width="12.5" height="12.5" fill="#ff8f00"/>
<rect x="336" y="307" width="12.5" height="12.5" fill="#ff8e00"/>
<rect x="348" y="307" width="12.5" height="12.5" fill="#ff8d00"/>
<rect x="360" y="307" width="12.5" height="12.5" fill="#ff8c00"/>
<rect x="372" y="307" width="12.5" height="12.5" fill="#ff8c00"/>
<rect x="384" y="307" width="12.5" height="12.5" fill="#ff8d00"/>
<rect x="396" y="307" width="12.5" height="12.5" fill="#ff8e00"/>
<rect x="408" y="307" width="12.5" height="12.5" fill="#ff8f00"/>
<rect x="420" y="307" width="12.5" height="12.5" fill="#ff9200"/>
<rect x="432" y="307" width="12.5" height="12.5" fill="#ff9700"/>
<rect x="444" y="307" width="12.5" height="12.5" fill="#ff9c00"/>
<rect x="456" y="307" width="12.5" height="12.5" fill="#ffa100"/>
<rect x="468" y="307" width="12.5" height="12.5" fill="#ffa900"/>
<rect x="480" y="307" width="12.5" height="12.5" fill="#ffb000"/>
<rect x="492" y="307" width="12.5" height="12.5" fill="#ffb800"/>
<rect x="504" y="307" width="12.5" height="12.5" fill="#ffba00"/>
<rect x="516" y="307" width="12.5" height="12.5" fill="#ffba00"/>
<rect x="144" y="319" width="12.5" height="12.5" fill="#ffa700"/>
<rect x="156" y="319" width="12.5" height="12.5" fill="#ffa700"/>
<rect x="168" y="319" width="12.5" height="12.5" fill="#ffa600"/>
<rect x="180" y="319" width="12.5" height="12.5" fill="#ffa500"/>
<rect x="192" y="319" width="12.5" height="12.5" fill="#ffa300"/>
<rect x="204" y="319" width="12.5" height="12.5" fill="#ffa200"/>
<rect x="216" y="319" width="12.5" height="12.5" fill="#ffa000"/>
<rect x="228" y="319" width="12.5" height="12.5" fill="#ff9e00"/>
<rect x="240" y="319" width="12.5" height="12.5" fill="#ff9c00"/>
<rect x="252" y="319" width="12.5" height="12.5" fill="#ff9a00"/>
<rect x="264" y="319" width="12.5" height="12.5" fill="#ff9700"/>
<rect x="276" y="319" width="12.5" height="12.5" fill="#ff9400"/>
<rect x="288" y="319" width="12.5" height="12.5" fill="#ff9100"/>
<rect x="300" y="319" width="12.5" height="12.5" fill="#ff8e00"/>
<rect x="312" y="319" width="12.5" height="12.5" fill="#ff8c00"/>
<rect x="324" y="319" width="12.5" height="12.5" fill="#ff8900"/>
<rect x="336" y="319" width="12.5" height="12.5" fill="#ff8800"/>
<rect x="348" y="319" width="12.5" height="12.5" fill="#ff8800"/>
<rect x="360" y="319" width="12.5" height="12.5" fill="#ff8800"/>
<rect x="372" y="319" width="12.5" height="12.5" fill="#ff8800"/>
<rect x="384" y="319" width="12.5" height="12.5" fill="#ff8900"/>
<rect x="396" y="319" width="12.5" height="12.5" fill="#ff8b00"/>
<rect x="408" y="319" width="12.5" height="12.5" fill="#ff8d00"/>
<rect x="420" y="319" width="12.5" height="12.5" fill="#ff9100"/>
<rect x="432" y="319" width="12.5" height="12.5" fill="#ff9700"/>
<rect x="444" y="319" width="12.5" height="12.5" fill="#ff9c00"/>
<rect x="456" y="319" width="12.5" height="12.5" fill="#ffa200"/>
<rect x="468" y="319" width="12.5" height="12.5" fill="#ffaa00"/>
<rect x="480" y="319" width="12.5" height="12.5" fill="#ffb200"/>
<rect x="492" y="319" width="12.5" height="12.5" fill="#ffba00"/>
<rect x="504" y="319" width="12.5" height="12.5" fill="#ffbd00"/>
<rect x="516" y="319" width="12.5" height="12.5" fill="#ffbd00"/>
<rect x="144" y="331" width="12.5" height="12.5" fill="#ffa000"/>
<rect x="156" y="331" width="12.5" height="12.5" fill="#ffa000"/>
<rect x="168" y="331" width="12.5" height="12.5" fill="#ff9f00"/>
<rect x="180" y="331" width="12.5" height="12.5" fill="#ff9d00"/>
<rect x="192" y="331" width="12.5" height="12.5" fill="#ff9b00"/>
<rect x="204" y="331" width="12.5" height="12.5" fill="#ff9900"/>
<rect x="216" y="331" width="12.5" height="12.5" fill="#ff9700"/>
<rect x="228" y="331" width="12.5" height="12.5" fill="#ff9500"/>
<rect x="240" y="331" width="12.5" height="12.5" fill="#ff9300"/>
<rect x="252" y="331" width="12.5" height="12.5" fill="#ff9000"/>
<rect x="264" y="331" width="12.5" height="12.5" fill="#ff8d00"/>
<rect x="276" y="331" width="12.5" height="12.5" fill="#ff8a00"/>
<rect x="288" y="331" width="12.5" height="12.5" fill="#ff8800"/>
<rect x="300" y="331" width="12.5" height="12.5" fill="#ff8500"/>
<rect x="312" y="331" width="12.5" height="12.5" fill="#ff8300"/>
<rect x="324" y="331" width="12.5" height="12.5" fill="#ff8100"/>
<rect x="336" y="331" width="12.5" height="12.5" fill="#ff8000"/>
<rect x="348" y="331" width="12.5" height="12.5" fill="#ff8100"/>
<rect x="360" y="331" width="12.5" height="12.5" fill="#ff8100"/>
<rect x="372" y="331" width="12.5" height="12.5" fill="#ff8200"/>
<rect x="384" y="331" width="12.5" height="12.5" fill="#ff8400"/>
<rect x="396" y="331" width="12.5" height="12.5" fill="#ff8700"/>
<rect x="408" y="331" width="12.5" height="12.5" fill="#ff8900"/>
<rect x="420" y="331" width="12.5" height="12.5" fill="#ff8e00"/>
<rect x="432" y="331" width="12.5" height="12.5" fill="#ff9400"/>
<rect x="444" y="331" width="12.5" height="12.5" fill="#ff9b00"/>
<rect x="456" y="331" width="12.5" height="12.5" fill="#ffa100"/>
<rect x="468" y="331" width="12.5" height="12.5" fill="#ffa900"/>
<rect x="480" y="331" width="12.5" height="12.5" fill="#ffb100"/>
<rect x="492" y="331" width="12.5" height="12.5" fill="#ffb900"/>
<rect x="504" y="331" width="12.5" height="12.5" fill="#ffbc00"/>
<rect x="516" y="331" width="12.5" height="12.5" fill="#ffbc00"/>
<rect x="144" y="343" width="12.5" height="12.5" fill="#ff9900"/>
<rect x="156" y="343" width="12.5" height="12.5" fill="#ff9900"/>
<rect x="168" y="343" width="12.5" height="12.5" fill="#ff9800"/>
<rect x="180" y="343" width="12.5" height="12.5" fill="#ff9500"/>
<rect x="192" y="343" width="12.5" height="12.5" fill="#ff9300"/>
<rect x="204" y="343" width="12.5" height="12.5" fill="#ff9000"/>
<rect x="216" y="343" width="12.5" height="12.5" fill="#ff8e00"/>
<rect x="228" y="343" width="12.5" height="12.5" fill="#ff8b00"/>
<rect x="240" y="343" width="12.5" height="12.5" fill="#ff8900"/>
<rect x="252" y="343" width="12.5" height="12.5" fill="#ff8600"/>
<rect x="264" y="343" width="12.5" height="12.5" fill="#ff8300"/>
<rect x="276" y="343" width="12.5" height="12.5" fill="#ff8000"/>
<rect x="288" y="343" width="12.5" height="12.5" fill="#ff7d00"/>
<rect x="300" y="343" width="12.5" height="12.5" fill="#ff7b00"/>
<rect x="312" y="343" width="12.5" height="12.5" fill="#ff7a00"/>
<rect x="324" y="343" width="12.5" height="12.5" fill="#ff7800"/>
<rect x="336" y="343" width="12.5" height="12.5" fill="#ff7800"/>
<rect x="348" y="343" width="12.5" height="12.5" fill="#ff7900"/>
<rect x="360" y="343" width="12.5" height="12.5" fill="#ff7a00"/>
<rect x="372" y="343" width="12.5" height="12.5" fill="#ff7b00"/>
<rect x="384" y="343" width="12.5" height="12.5" fill="#ff7d00"/>
<rect x="396" y="343" width="12.5" height="12.5" fill="#ff8000"/>
<rect x="408" y="343" width="12.5" height="12.5" fill="#ff8300"/>
<rect x="420" y="343" width="12.5" height="12.5" fill="#ff8800"/>
<rect x="432" y="343" width="12.5" height="12.5" fill="#ff8f00"/>
<rect x="444" y="343" width="12.5" height="12.5" fill="#ff9500"/>
<rect x="456" y="343" width="12.5" height="12.5" fill="#ff9c00"/>
<rect x="468" y="343" width="12.5" height="12.5" fill="#ffa400"/>
<rect x="480" y="343" width="12.5" height="12.5" fill="#ffac00"/>
<rect x="492" y="343" width="12.5" height="12.5" fill="#ffb400"/>
<rect x="504" y="343" width="12.5" height="12.5" fill="#ffb700"/>
<rect x="516" y="343" width="12.5" height="12.5" fill="#ffb700"/>
<rect x="144" y="355" width="12.5" height="12.5" fill="#ff9200"/>
<rect x="156" y="355" width="12.5" height="12.5" fill="#ff9200"/>
<rect x="168" y="355" width="12.5" height="12.5" fill="#ff9000"/>
<rect x="180" y="355" width="12.5" height="12.5" fill="#ff8d00"/>
<rect x="192" y="355" width="12.5" height="12.5" fill="#ff8a00"/>
<rect x="204" y="355" width="12.5" height="12.5" fill="#ff8800"/>
<rect x="216" y="355" width="12.5" height="12.5" fill="#ff8500"/>
<rect x="228" y="355" width="12.5" height="12.5" fill="#ff8200"/>
<rect x="240" y="355" width="12.5" height="12.5" fill="#ff7f00"/>
<rect x="252" y="355" width="12.5" height="12.5" fill="#ff7c00"/>
<rect x="264" y="355" width="12.5" height="12.5" fill="#ff7900"/>
<rect x="276" y="355" width="12.5" height="12.5" fill="#ff7600"/>
<rect x="288" y="355" width="12.5" height="12.5" fill="#ff7300"/>
<rect x="300" y="355" width="12.5" height="12.5" fill="#ff7200"/>
<rect x="312" y="355" width="12.5" height="12.5" fill="#ff7000"/>
<rect x="324" y="355" width="12.5" height="12.5" fill="#ff6f00"/>
<rect x="336" y="355" width="12.5" height="12.5" fill="#ff6f00"/>
<rect x="348" y="355" width="12.5" height="12.5" fill="#ff7000"/>
<rect x="360" y="355" width="12.5" height="12.5" fill="#ff7200"/>
<rect x="372" y="355" width="12.5" height="12.5" fill="#ff7300"/>
<rect x="384" y="355" width="12.5" height="12.5" fill="#ff7700"/>
<rect x="396" y="355" width="12.5" height="12.5" fill="#ff7a00"/>
<rect x="408" y="355" width="12.5" height="12.5" fill="#ff7d00"/>
<rect x="420" y="355" width="12.5" height="12.5" fill="#ff8300"/>
<rect x="432" y="355" width="12.5" height="12.5" fill="#ff8900"/>
<rect x="444" y="355" width="12.5" height="12.5" fill="#ff9000"/>
<rect x="456" y="355" width="12.5" height="12.5" fill="#ff9700"/>
<rect x="468" y="355" width="12.5" height="12.5" fill="#ff9f00"/>
<rect x="480" y="355" width="12.5" height="12.5" fill="#ffa700"/>
<rect x="492" y="355" width="12.5" height="12.5" fill="#ffb000"/>
<rect x="504" y="355" width="12.5" height="12.5" fill="#ffb200"/>
<rect x="516" y="355" width="12.5" height="12.5" fill="#ffb200"/>
<rect x="144" y="367" width="12.5" height="12.5" fill="#ff8b00"/>
<rect x="156" y="367" width="12.5" height="12.5" fill="#ff8b00"/>
<rect x="168" y="367" width="12.5" height="12.5" fill="#ff8900"/>
<rect x="180" y="367" width="12.5" height="12.5" fill="#ff8600"/>
<rect x="192" y="367" width="12.5" height="12.5" fill="#ff8200"/>
<rect x="204" y="367" width="12.5" height="12.5" fill="#ff7f00"/>
<rect x="216" y="367" width="12.5" height="12.5" fill="#ff7b00"/>
<rect x="228" y="367" width="12.5" height="12.5" fill="#ff7800"/>
<rect x="240" y="367" width="12.5" height="12.5" fill="#ff7500"/>
<rect x="252" y="367" width="12.5" height="12.5" fill="#ff7100"/>
<rect x="264" y="367" width="12.5" height="12.5" fill="#ff6e00"/>
<rect x="276" y="367" width="12.5" height="12.5" fill="#ff6c00"/>
<rect x="288" y="367" width="12.5" height="12.5" fill="#ff6900"/>
<rect x="300" y="367" width="12.5" height="12.5" fill="#ff6800"/>
<rect x="312" y="367" width="12.5" height="12.5" fill="#ff6600"/>
<rect x="324" y="367" width="12.5" height="12.5" fill="#ff6500"/>
<rect x="336" y="367" width="12.5" height="12.5" fill="#ff6600"/>
<rect x="348" y="367" width="12.5" height="12.5" fill="#ff6800"/>
<rect x="360" y="367" width="12.5" height="12.5" fill="#ff6a00"/>
<rect x="372" y="367" width="12.5" height="12.5" fill="#ff6c00"/>
<rect x="384" y="367" width="12.5" height="12.5" fill="#ff7000"/>
<rect x="396" y="367" width="12.5" height="12.5" fill="#ff7300"/>
<rect x="408" y="367" width="12.5" height="12.5" fill="#ff7700"/>
<rect x="420" y="367" width="12.5" height="12.5" fill="#ff7d00"/>
<rect x="432" y="367" width="12.5" height="12.5" fill="#ff8400"/>
<rect x="444" y="367" width="12.5" height="12.5" fill="#ff8b00"/>
<rect x="456" y="367" width="12.5" height="12.5" fill="#ff9200"/>
<rect x="468" y="367" width="12.5" height="12.5" fill="#ff9a00"/>
<rect x="480" y="367" width="12.5" height="12.5" fill="#ffa200"/>
<rect x="492" y="367" width="12.5" height="12.5" fill="#ffab00"/>
<rect x="504" y="367" width="12.5" height="12.5" fill="#ffad00"/>
<rect x="516" y="367" width="12.5" height="12.5" fill="#ffad00"/>
<rect x="144" y="379" width="12.5" height="12.5" fill="#ff8300"/>
<rect x="156" y="379" width="12.5" height="12.5" fill="#ff8300"/>
<rect x="168" y="379" width="12.5" height="12.5" fill="#ff8100"/>
<rect x="180" y="379" width="12.5" height="12.5" fill="#ff7d00"/>
<rect x="192" y="379" width="12.5" height="12.5" fill="#ff7900"/>
<rect x="204" y="379" width="12.5" height="12.5" fill="#ff7600"/>
<rect x="216" y="379" width="12.5" height="12.5" fill="#ff7200"/>
<rect x="228" y="379" width="12.5" height="12.5" fill="#ff6e00"/>
<rect x="240" y="379" width="12.5" height="12.5" fill="#ff6a00"/>
<rect x="252" y="379" width="12.5" height="12.5" fill="#ff6600"/>
<rect x="264" y="379" width="12.5" height="12.5" fill="#ff6300"/>
<rect x="276" y="379" width="12.5" height="12.5" fill="#ff5f00"/>
<rect x="288" y="379" width="12.5" height="12.5" fill="#ff5c00"/>
<rect x="300" y="379" width="12.5" height="12.5" fill="#ff5b00"/>
<rect x="312" y="379" width="12.5" height="12.5" fill="#ff5a00"/>
<rect x="324" y="379" width="12.5" height="12.5" fill="#ff5900"/>
<rect x="336" y="379" width="12.5" height="12.5" fill="#ff5a00"/>
<rect x="348" y="379" width="12.5" height="12.5" fill="#ff5d00"/>
<rect x="360" y="379" width="12.5" height="12.5" fill="#ff5f00"/>
<rect x="372" y="379" width="12.5" height="12.5" fill="#ff6200"/>
<rect x="384" y="379" width="12.5" height="12.5" fill="#ff6700"/>
<rect x="396" y="379" width="12.5" height="12.5" fill="#ff6c00"/>
<rect x="408" y="379" width="12.5" height="12.5" fill="#ff7000"/>
<rect x="420" y="379" width="12.5" height="12.5" fill="#ff7700"/>
<rect x="432" y="379" width="12.5" height="12.5" fill="#ff7e00"/>
<rect x="444" y="379" width="12.5" height="12.5" fill="#ff8500"/>
<rect x="456" y="379" width="12.5" height="12.5" fill="#ff8c00"/>
<rect x="468" y="379" width="12.5" height="12.5" fill="#ff9500"/>
<rect x="480" y="379" width="12.5" height="12.5" fill="#ff9d00"/>
<rect x="492" y="379" width="12.5" height="12.5" fill="#ffa600"/>
<rect x="504" y="379" width="12.5" height="12.5" fill="#ffa900"/>
<rect x="516" y="379" width="12.5" height="12.5" fill="#ffa900"/>
<rect x="144" y="391" width="12.5" height="12.5" fill="#ff7c00"/>
<rect x="156" y="391" width="12.5" height="12.5" fill="#ff7c00"/>
<rect x="168" y="391" width="12.5" height="12.5" fill="#ff7a00"/>
<rect x="180" y="391" width="12.5" height="12.5" fill="#ff7500"/>
<rect x="192" y="391" width="12.5" height="12.5" fill="#ff7100"/>
<rect x="204" y="391" width="12.5" height="12.5" fill="#ff6c00"/>
<rect x="216" y="391" width="12.5" height="12.5" fill="#ff6800"/>
<rect x="228" y="391" width="12.5" height="12.5" fill="#ff6300"/>
<rect x="240" y="391" width="12.5" height="12.5" fill="#ff5f00"/>
<rect x="252" y="391" width="12.5" height="12.5" fill="#ff5b00"/>
<rect x="264" y="391" width="12.5" height="12.5" fill="#ff5700"/>
<rect x="276" y="391" width="12.5" height="12.5" fill="#ff5300"/>
<rect x="288" y="391" width="12.5" height="12.5" fill="#ff4f00"/>
<rect x="300" y="391" width="12.5" height="12.5" fill="#ff4e00"/>
<rect x="312" y="391" width="12.5" height="12.5" fill="#ff4d00"/>
<rect x="324" y="391" width="12.5" height="12.5" fill="#ff4c00"/>
<rect x="336" y="391" width="12.5" height="12.5" fill="#ff4d00"/>
<rect x="348" y="391" width="12.5" height="12.5" fill="#ff5100"/>
<rect x="360" y="391" width="12.5" height="12.5" fill="#ff5500"/>
<rect x="372" y="391" width="12.5" height="12.5" fill="#ff5800"/>
<rect x="384" y="391" width="12.5" height="12.5" fill="#ff5e00"/>
<rect x="396" y="391" width="12.5" height="12.5" fill="#ff6300"/>
<rect x="408" y="391" width="12.5" height="12.5" fill="#ff6900"/>
<rect x="420" y="391" width="12.5" height="12.5" fill="#ff7000"/>
<rect x="432" y="391" width="12.5" height="12.5" fill="#ff7800"/>
<rect x="444" y="391" width="12.5" height="12.5" fill="#ff7f00"/>
<rect x="456" y="391" width="12.5" height="12.5" fill="#ff8700"/>
<rect x="468" y="391" width="12.5" height="12.5" fill="#ff9000"/>
<rect x="480" y="391" width="12.5" height="12.5" fill="#ff9800"/>
<rect x="492" y="391" width="12.5" height="12.5" fill="#ffa100"/>
<rect x="504" y="391" width="12.5" height="12.5" fill="#ffa400"/>
<rect x="516" y="391" width="12.5" height="12.5" fill="#ffa400"/>
<rect x="144" y="403" width="12.5" height="12.5" fill="#ff7400"/>
<rect x="156" y="403" width="12.5" height="12.5" fill="#ff7400"/>
<rect x="168" y="403" width="12.5" height="12.5" fill="#ff7200"/>
<rect x="180" y="403" width="12.5" height="12.5" fill="#ff6d00"/>
<rect x="192" y="403" width="12.5" height="12.5" fill="#ff6800"/>
<rect x="204" y="403" width="12.5" height="12.5" fill="#ff6300"/>
<rect x="216" y="403" width="12.5" height="12.5" fill="#ff5e00"/>
<rect x="228" y="403" width="12.5" height="12.5" fill="#ff5900"/>
<rect x="240" y="403" width="12.5" height="12.5" fill="#ff5400"/>
<rect x="252" y="403" width="12.5" height="12.5" fill="#ff4f00"/>
<rect x="264" y="403" width="12.5" height="12.5" fill="#ff4b00"/>
<rect x="276" y="403" width="12.5" height="12.5" fill="#ff4600"/>
<rect x="288" y="403" width="12.5" height="12.5" fill="#ff4200"/>
<rect x="300" y="403" width="12.5" height="12.5" fill="#ff4100"/>
<rect x="312" y="403" width="12.5" height="12.5" fill="#ff4000"/>
<rect x="324" y="403" width="12.5" height="12.5" fill="#ff3f00"/>
<rect x="336" y="403" width="12.5" height="12.5" fill="#ff4100"/>
<rect x="348" y="403" width="12.5" height="12.5" fill="#ff4500"/>
<rect x="360" y="403" width="12.5" height="12.5" fill="#ff4a00"/>
<rect x="372" y="403" width="12.5" height="12.5" fill="#ff4e00"/>
<rect x="384" y="403" width="12.5" height="12.5" fill="#ff5500"/>
<rect x="396" y="403" width="12.5" height="12.5" fill="#ff5b00"/>
<rect x="408" y="403" width="12.5" height="12.5" fill="#ff6200"/>
<rect x="420" y="403" width="12.5" height="12.5" fill="#ff6900"/>
<rect x="432" y="403" width="12.5" height="12.5" fill="#ff7100"/>
<rect x="444" y="403" width="12.5" height="12.5" fill="#ff7900"/>
<rect x="456" y="403" width="12.5" height="12.5" fill="#ff8200"/>
<rect x="468" y="403" width="12.5" height="12.5" fill="#ff8a00"/>
<rect x="480" y="403" width="12.5" height="12.5" fill="#ff9300"/>
<rect x="492" y="403" width="12.5" height="12.5" fill="#ff9c00"/>
<rect x="504" y="403" width="12.5" height="12.5" fill="#ff9f00"/>
<rect x="516" y="403" width="12.5" height="12.5" fill="#ff9f00"/>
<rect x="144" y="415" width="12.5" height="12.5" fill="#ff7000"/>
<rect x="156" y="415" width="12.5" height="12.5" fill="#ff7000"/>
<rect x="168" y="415" width="12.5" height="12.5" fill="#ff6d00"/>
<rect x="180" y="415" width="12.5" height="12.5" fill="#ff6800"/>
<rect x="192" y="415" width="12.5" height="12.5" fill="#ff6300"/>
<rect x="204" y="415" width="12.5" height="12.5" fill="#ff5e00"/>
<rect x="216" y="415" width="12.5" height="12.5" fill="#ff5900"/>
<rect x="228" y="415" width="12.5" height="12.5" fill="#ff5300"/>
<rect x="240" y="415" width="12.5" height="12.5" fill="#ff4e00"/>
<rect x="252" y="415" width="12.5" height="12.5" fill="#ff4900"/>
<rect x="264" y="415" width="12.5" height="12.5" fill="#ff4400"/>
<rect x="276" y="415" width="12.5" height="12.5" fill="#ff3f00"/>
<rect x="288" y="415" width="12.5" height="12.5" fill="#ff3a00"/>
<rect x="300" y="415" width="12.5" height="12.5" fill="#ff3900"/>
<rect x="312" y="415" width="12.5" height="12.5" fill="#ff3800"/>
<rect x="324" y="415" width="12.5" height="12.5" fill="#ff3700"/>
<rect x="336" y="415" width="12.5" height="12.5" fill="#ff3a00"/>
<rect x="348" y="415" width="12.5" height="12.5" fill="#ff3f00"/>
<rect x="360" y="415" width="12.5" height="12.5" fill="#ff4400"/>
<rect x="372" y="415" width="12.5" height="12.5" fill="#ff4900"/>
<rect x="384" y="415" width="12.5" height="12.5" fill="#ff5000"/>
<rect x="396" y="415" width="12.5" height="12.5" fill="#ff5700"/>
<rect x="408" y="415" width="12.5" height="12.5" fill="#ff5e00"/>
<rect x="420" y="415" width="12.5" height="12.5" fill="#ff6600"/>
<rect x="432" y="415" width="12.5" height="12.5" fill="#ff6e00"/>
<rect x="444" y="415" width="12.5" height="12.5" fill="#ff7600"/>
<rect x="456" y="415" width="12.5" height="12.5" fill="#ff7e00"/>
<rect x="468" y="415" width="12.5" height="12.5" fill="#ff8700"/>
<rect x="480" y="415" width="12.5" height="12.5" fill="#ff9000"/>
<rect x="492" y="415" width="12.5" height="12.5" fill="#ff9900"/>
<rect x="504" y="415" width="12.5" height="12.5" fill="#ff9c00"/>
<rect x="516" y="415" width="12.5" height="12.5" fill="#ff9c00"/>
<rect x="144" y="427" width="12.5" height="12.5" fill="#ff7000"/>
<rect x="156" y="427" width="12.5" height="12.5" fill="#ff7000"/>
<rect x="168" y="427" width="12.5" height="12.5" fill="#ff6d00"/>
<rect x="180" y="427" width="12.5" height="12.5" fill="#ff6800"/>
<rect x="192" y="427" width="12.5" height="12.5" fill="#ff6300"/>
<rect x="204" y="427" width="12.5" height="12.5" fill="#ff5e00"/>
<rect x="216" y="427" width="12.5" height="12.5" fill="#ff5900"/>
<rect x="228" y="427" width="12.5" height="12.5" fill="#ff5300"/>
<rect x="240" y="427" width="12.5" height="12.5" fill="#ff4e00"/>
<rect x="252" y="427" width="12.5" height="12.5" fill="#ff4900"/>
<rect x="264" y="427" width="12.5" height="12.5" fill="#ff4400"/>
<rect x="276" y="427" width="12.5" height="12.5" fill="#ff3f00"/>
<rect x="288" y="427" width="12.5" height="12.5" fill="#ff3a00"/>
<rect x="300" y="427" width="12.5" height="12.5" fill="#ff3900"/>
<rect x="312" y="427" width="12.5" height="12.5" fill="#ff3800"/>
<rect x="324" y="427" width="12.5" height="12.5" fill="#ff3700"/>
<rect x="336" y="427" width="12.5" height="12.5" fill="#ff3a00"/>
<rect x="348" y="427" width="12.5" height="12.5" fill="#ff3f00"/>
<rect x="360" y="427" width="12.5" height="12.5" fill="#ff4400"/>
<rect x="372" y="427" width="12.5" height="12.5" fill="#ff4900"/>
<rect x="384" y="427" width="12.5" height="12.5" fill="#ff5000"/>
<rect x="396" y="427" width="12.5" height="12.5" fill="#ff5700"/>
<rect x="408" y="427" width="12.5" height="12.5" fill="#ff5e00"/>
<rect x="420" y="427" width="12.5" height="12.5" fill="#ff6600"/>
<rect x="432" y="427" width="12.5" height="12.5" fill="#ff6e00"/>
<rect x="444" y="427" width="12.5" height="12.5" fill="#ff7600"/>
<rect x="456" y="427" width="12.5" height="12.5" fill="#ff7e00"/>
<rect x="468" y="427" width="12.5" height="12.5" fill="#ff8700"/>
<rect x="480" y="427" width="12.5" height="12.5" fill="#ff9000"/>
<rect x="492" y="427" width="12.5" height="12.5" fill="#ff9900"/>
<rect x="504" y="427" width="12.5" height="12.5" fill="#ff9c00"/>
<rect x="516" y="427" width="12.5" height="12.5" fill="#ff9c00"/>
<rect x="144" y="439" width="12.5" height="12.5" fill="#ff7000"/>
<rect x="156" y="439" width="12.5" height="12.5" fill="#ff7000"/>
<rect x="168" y="439" width="12.5" height="12.5" fill="#ff6d00"/>
<rect x="180" y="439" width="12.5" height="12.5" fill="#ff6800"/>
<rect x="192" y="439" width="12.5" height="12.5" fill="#ff6300"/>
<rect x="204" y="439" width="12.5" height="12.5" fill="#ff5e00"/>
<rect x="216" y="439" width="12.5" height="12.5" fill="#ff5900"/>
<rect x="228" y="439" width="12.5" height="12.5" fill="#ff5300"/>
<rect x="240" y="439" width="12.5" height="12.5" fill="#ff4e00"/>
<rect x="252" y="439" width="12.5" height="12.5" fill="#ff4900"/>
<rect x="264" y="439" width="12.5" height="12.5" fill="#ff4400"/>
<rect x="276" y="439" width="12.5" height="12.5" fill="#ff3f00"/>
<rect x="288" y="439" width="12.5" height="12.5" fill="#ff3a00"/>
<rect x="300" y="439" width="12.5" height="12.5" fill="#ff3900"/>
<rect x="312" y="439" width="12.5" height="12.5" fill="#ff3800"/>
<rect x="324" y="439" width="12.5" height="12.5" fill="#ff3700"/>
<rect x="336" y="439" width="12.5" height="12.5" fill="#ff3a00"/>
<rect x="348" y="439" width="12.5" height="12.5" fill="#ff3f00"/>
<rect x="360" y="439" width="12.5" height="12.5" fill="#ff4400"/>
<rect x="372" y="439" width="12.5" height="12.5" fill="#ff4900"/>
<rect x="384" y="439" width="12.5" height="12.5" fill="#ff5000"/>
<rect x="396" y="439" width="12.5" height="12.5" fill="#ff5700"/>
<rect x="408" y="439" width="12.5" height="12.5" fill="#ff5e00"/>
<rect x="420" y="439" width="12.5" height="12.5" fill="#ff6600"/>
<rect x="432" y="439" width="12.5" height="12.5" fill="#ff6e00"/>
<rect x="444" y="439" width="12.5" height="12.5" fill="#ff7600"/>
<rect x="456" y="439" width="12.5" height="12.5" fill="#ff7e00"/>
<rect x="468" y="439" width="12.5" height="12.5" fill="#ff8700"/>
<rect x="480" y="439" width="12.5" height="12.5" fill="#ff9000"/>
<rect x="492" y="439" width="12.5" height="12.5" fill="#ff9900"/>
<rect x="504" y="439" width="12.5" height="12.5" fill="#ff9c00"/>
<rect x="516" y="439" width="12.5" height="12.5" fill="#ff9c00"/>
</g>
</g>
<!-- MAPLINES -->
<g clip-path="url(#mc)" fill="none" stroke-linejoin="round" stroke-linecap="round" shape-rendering="crispEdges">
<path d="M167.7 192.4L175.6 192.1L182.3 193.2L190.5 195.7L197.2 199.9L203.8 204.8L206.3 211.5L207.1 219.8L204.7 227.2L201.3 233L200.5 239.7L198 243L193 247.2L188.9 251 M200.5 240.8L197.2 244.1L193 246.6L188.9 248.3L184.7 249.1L183.9 252.4L186.4 254.1L184.7 256.6L179.8 258.3L175.6 257.4L171.5 259.1L169 260.7L167.7 262.4L170.6 263.2L172.3 266.5L171.5 269.9L167.7 271.5 M167.7 279L169.8 279.8L172.3 283.5L177.3 282.8L183.9 281.8L191.4 281.5L192.5 283.5L189.7 285.6L188.9 288.1L190.2 291.4L188.9 294.8L184.7 297.2L179.8 298.1L175.6 299.7L172.3 302.2L170.6 305.5L172.3 307.7L167.7 308.4 M197.2 312.2L198.8 308L203.8 305.5L213.8 303L223.7 301.4L233.7 299.4L242 295.6L250.3 291.4L260.2 285.6L268.5 282.8L276 281.5 M235 299.4L237 303.9L237.8 306.4L237 309.7L239.5 313.8L243.6 317.2L247 319.6L250.3 321 M197.2 312.5L195.5 320L195.2 328.3L194.4 336.6L193.5 341.5L194.7 345.7L191.4 349L188.9 353.2L183.1 358.5L177.3 362.3L170.6 364.3L167.7 364.4 M239.5 315L245.3 318.3L251.9 317.5L258.6 316.7L261.1 318 M323.7 189.2L327.4 182.8L331.2 178.4L335.7 175.2L339.9 174.7L339.6 176.8L335.7 179.9L332.8 184.3L331.6 188.6L328.7 192.6L325 193.8L323.2 191.4L323.7 189.2 M400 166.8L393.2 168.1L385.7 169L378.2 170L370.8 171.2L364.5 173.7L358.3 176.2L353.3 179.3L350.8 182.4L350.2 186.1L350.8 189.9L351.5 193.6L350.2 197.3L349 199.2L351.5 200.1L358.3 200.4L362 197.3L367 197.3L365.8 199.2L362 199.8L359.6 203.6L358.9 208.5L360.2 212.3L363.9 214.1L368.3 213.5L370.8 212.9 M350.2 186.1L347.1 188L340.9 192.4L336.5 195.5L332.2 197.3L329.1 196.1L326.6 193.6L324.1 191.1 M324.1 193L322.2 199.8L320.4 207.3L319.1 214.8L318.5 221 M337.8 196.1L339.6 201.1L340.9 205.4L345.9 207.9L347.7 211L353.3 214.8L357.1 215.4 M346.5 209.8L342.8 211.6L338.4 212.9L336.5 213.5L337.8 217.2L340.9 218.5L345.2 216L347.7 212.3 M380.1 170L384.4 170L384.4 173.9L380.1 173.9L380.1 170 M396 167.3L400.4 164.2L403.5 161.1L407.8 154.9L412.2 153.4 M412.8 171.1L413.4 167.3L414.7 163.6L415.9 159.9L418.4 156.8L423.4 154.3L430.8 153L438.3 151.8L445.8 150.5L450.8 149.9L452 153L453.2 156.1L457 159.2L458.2 161.1L456.4 162.6L453.9 162.6L455.7 165.5L458.2 167.3L461.3 168.6L463.8 166.7L464.4 163L463.2 159.9L460.7 159.2L461.3 156.8L465.7 158L470.7 159.9L471.9 162.4 M471.9 162.4L470.7 154.9L471.3 148.7L472.5 143.7L475.6 141.2L480 141.8 M420.9 174.2L421.5 177.3L420.9 182.3L420.3 187.2L420.9 191 M416.5 174.5L420.3 174.5L420.3 177.3L416.5 177.3L416.5 174.5 M471.1 79.4L464.8 78.7L460.5 81.2L459.9 87.4L460.5 94.9L461.7 98.6L464.2 98 M461.7 87.4L466.1 86.8L471.1 85L472.3 81.2L471.1 79.4 M472.9 80L473.6 86.2L476 92.4L479.2 97.4L482.3 101.1L486 103L488.5 106.1L487.2 109.2L483.5 111.1L479.8 110.5L476 111.7L472.9 113.6L472.3 117.3L474.2 119.2L477.9 117.9L482.3 117.3L486 116.7 M467.3 99.9L466.7 104.9L467.3 109.8L468.6 110.5L468.8 105.5L471.1 101.8L473.6 99.9L477.3 99.3 M482.3 117.9L481 122.3L483.5 125.4L487.9 126L489.1 129.8L486.6 132.2L483.5 132.9L485.4 135.4 M488.5 83.1L492.2 85L496 87.4L499.7 87.4L502.2 84.3L502.8 82.5 M484.8 125L488.5 127.5L489.1 131.2L486.6 133.7L483.5 133.1L484.8 136.2L487.9 139.3L491.6 140.6 M502.2 142L497.2 142L492.2 142L488.5 143.7L483.5 143L479.8 141.8L476 140.6L472.9 142.4L471.7 146.2L470.4 151.1L471.1 156.1L472.9 159.8L472.3 163.6L471.1 167.3L471.1 171 M321.8 202.5L320.5 211.2L318.7 218.7L316.2 226.2L312.4 233.6L307.5 241.1L302.5 247.3L300 249.8 M341.1 205L342.9 206.9L347.3 208.1L346.7 210.6L342.9 211.8L339.8 212.5L336.7 213.7L337.3 216.8L338.6 219.9L338 223.7L337.3 227.4L339.8 226.2L343.6 223L348.5 219.9L352.3 217.4L354.8 216.2L352.3 213.1L348.5 210.6L347.3 208.1 M358.5 205L359.7 208.7L361 212.5L364.7 214.3L369.7 213.7L374.7 211.2L377.2 208.7 M315.6 237.1L318.7 236.4 M304.2 244.4L299.9 248.7L296.8 252.5L295.5 256.8L296.8 262.4L298 268.6L299.2 274.9L301.1 281.1L304.8 286.1L307.3 289.2 M282.4 264.9L288.7 259.9L294.9 257.4L301.1 259.3L307.3 262.4L311.7 264.3L308.6 266.8L302.4 268L294.9 267.4L287.4 266.8L282.4 264.9 M286.2 262.4L292.4 261.2L298.6 263.7L304.8 265.5 M271.9 274.9L277.5 271.1L284.9 269.9L292.4 269.3L299.9 269.9L303.6 271.8L301.7 274.2L294.9 274.9L288.7 274.2L283.7 273.6L280 276.1L276.2 278L271.9 274.9 M273.7 278.6L280 276.1L287.4 275.5L293.6 278L299.9 279.2L303.6 281.1L301.1 283.6L294.9 283L289.9 284.8L284.9 286.1L280 283L276.2 281.1L273.7 278.6 M282.4 279.8L288.7 281.1L293.6 280.5L298.6 282.3 M268.8 285.4L273.7 287.3L277.5 286.7L282.4 287.9L286.2 291L289.9 292.3L294.9 291.7L299.9 289.8L304.2 287.3L307.3 289.2 M307.3 284.8L309.8 281.1L312.9 278.6L316 278L318.5 279.8L322.3 279.2L324.8 277.4L328.5 278L331 281.1L333.5 280.5L336 278L338.4 278.6L339.1 282.3L341.6 285.4L344.7 288.6L349.6 289.2L354 288.6 M417.2 235L413.4 237.5L409.1 240.6L404.7 242.5L402.2 246.2L404.7 247.4L408.4 248.7L407.8 251.8L402.2 253.7L396 255.5L391 257.4L386 256.8L381.7 254.3L378.6 255.5L376.1 257.4L373 258L373 261.8L375.5 264.9L378.6 268L380.4 271.1L382.3 274.8L383.6 278.6L383.6 283.5L381.7 287.3L379.8 291L379.2 296 M340 284.8L343.7 287.9L350 289.1L356.2 289.8L358.7 292.2L363.6 293.5L367.4 296 M421.7 178.8L421.1 185L421.7 191.2L420.4 195.6L417.3 199.3L416.1 204.9L416.1 209.9L413.6 212.1L408.6 212.4L403.6 212.6L402.2 216.1L403 220.4L406.1 222.3L412.4 222.9L416.1 225.4L416.7 229.8L415.5 234.8L412.4 237.9L410.5 241 M357.4 290L358.7 292.5L363.6 293.7L366.8 295.6L369.2 296.2L368 300L365.5 304.9L363.6 308.7L361.2 312.4L362.4 316.1L364.9 318L369.9 318.6L375.5 318.9 M379.8 290L381.1 293.7L379.8 296.8L376.1 299.3L372.4 301.2L370.5 303.7L372.4 305.6L376.7 306.2L378.6 308.7L377.3 312.4L376.1 316.1L375.5 318.9L378.6 321.1L381.7 323.6L383.6 326.7L385.4 327.3L384.2 329.8L384.8 332.9L389.2 334.8L391 337.9L391.6 342.3L389.8 344.8L386.7 346.6L383.6 349.1L382.9 351 M388.5 345L383.6 347.5L382.9 350.6L380.4 352.5L376.1 351.2L372.4 353.7L369.9 357.4L368.6 362.4L366.1 366.2L365.5 369.9L367.4 373.6L369.2 377.4L370.5 381.1L371.1 384.8L370.5 388.6 M380.4 352.5L381.1 357.4L382.9 362.4L386 366.2L389.8 369.3L393.5 371.1L397.9 371.8L398.5 374.9L396 378L393.5 381.1L392.3 384.8L391.6 389.2 M340 374.9L343.7 378L347.5 380.5L350.6 382.3L353.1 385.4L355.6 388.6L359.9 387.9L364.9 386.7L370.5 387.3L373 389.8L376.1 392.3L379.8 391.7L383.6 389.8L387.9 388.6L391.6 389.2L395.4 391L399.1 392.9 M396 391.7L399.1 394.2L401.6 398L404.7 401.7L407.2 406.7L410.9 407.3L413.4 404.8L417.2 405.4L420.3 409.2L424.6 409.8L429.6 409.8L433.3 407.3L436.4 406.7L439.6 408.5L441.4 411.6L445.8 413.5L452 413.8L457 414.1L460.7 415.4L464.4 416.6L466.9 417.9 M457.9 277L463.1 277 M260 317.5L262.6 321.5L264.6 327.3L265.9 331.2L270.4 332.6L273.1 331.2L277 333.2L280.2 335.8L280.9 340.4L282.8 343L286.1 341L291.3 341.7L295.2 341L298.5 343.7L301.1 346.3L301.8 349.5L299.8 352.1L301.1 356.1L301.8 360 M321.4 360L325.3 354.7L329.2 352.1L329.8 354.7L327.2 358.7 M302.4 356L300.5 359.9L299.2 361.2L304.4 362.5L309.6 364.5L313.5 365.1L317.4 363.2L320.7 360.6L321.4 356 M327.9 356L327.2 361.2L328.5 366.4L329.2 371.7L334.4 373L339.6 374.9L342.2 377.5L346.2 378.8L348.1 379.5" stroke="#000" stroke-width="2.1"/>
<path d="M341.5 171.8L345.9 170.6L352.1 168.7L357.1 167.7L360.8 167.2L365.8 166.8L370.8 166.2L373.2 166 M378.2 166L383.2 164.7L387.6 163.7 M390.7 161.9L395.6 161L400 160.6 M407.8 153.9L412.2 153.1L417.8 152.4L423.4 150.5L429.6 149.3L435.8 148L442 147.2L448.3 146.4L449.8 146.2 M396 160.5L399.7 159.5L403.5 160.5 M403.5 161.1L406 165.5L409.1 169.8L412.2 172.9L416.5 174.2L422.8 173.8 M480.4 103L481.6 107.4L482.9 109.8 M476.7 125.4L476 129.8L477 132.2 M491.6 140.8L497.2 141.3L502.8 141.3 M354.8 216.2L359.7 215.6L364.7 215L367.8 216.2L368.2 219.9L367.2 223.7L363.5 226.2L359.7 227.4L357.2 229.9L355.4 233L352.3 234.2L349.2 232.4L346 230.5L342.3 229.3L339.8 228L341.1 226.2L344.8 223.7L349.8 219.9L354.8 216.2 M324.3 234.2L321.8 238 M328 239.2L326.1 241.7" stroke="#000" stroke-width="3.2"/>
<path d="M464.6 93.9L470.4 92.8L472.6 94.5L469.6 96.7L464.8 96.2L464.6 93.9 M472.3 103.9L474.2 101.8L476.3 103.9L474.2 106.1L472.3 103.9" stroke="#000" stroke-width="1.4"/>
<path d="M354 192.1L356.4 192.6L358.9 193.8L362.3 193L363.9 189.9L366.4 188.9L367.6 191.1L365.8 193.8L363.9 196.1L367.6 196.7L367 198.6L362.7 198L359.6 198.6L357.1 199.6L354.8 197.3L355.6 195.5L354 193.6Z M372.6 207.9L379.5 207.3L378.8 211L375.7 212.9L373.2 213.5L372 210.4Z M372.8 207.5L374.7 209.4L377.8 206.9L378.4 209.4L375.9 212.5L373.4 213.1L372.2 211.2L374 210Z M336.1 233L339.2 232.6L339.6 238.6L336.1 239.2Z" stroke="#000" stroke-width="1" fill="#000"/>
<g fill="#000" stroke="none"><circle cx="196.4" cy="348.2" r="1.3"/><circle cx="325.3" cy="217.9" r="1.6"/><circle cx="375.7" cy="181.8" r="1.6"/><circle cx="376.1" cy="183.0" r="1.4"/><circle cx="370.8" cy="184.9" r="1.2"/><circle cx="424.0" cy="167.3" r="1.5"/><circle cx="406.0" cy="176.3" r="1.3"/><circle cx="401.0" cy="184.8" r="1.6"/><circle cx="457.0" cy="150.2" r="1.7"/><circle cx="468.2" cy="138.1" r="1.6"/><circle cx="477.5" cy="131.2" r="1.6"/><circle cx="453.2" cy="180.4" r="1.4"/><circle cx="457.4" cy="150.5" r="1.7"/><circle cx="467.3" cy="137.4" r="1.8"/><circle cx="476.7" cy="130.6" r="1.3"/><circle cx="453.0" cy="179.8" r="1.5"/><circle cx="325.5" cy="217.4" r="1.5"/><circle cx="328.6" cy="219.9" r="1.3"/><circle cx="333.0" cy="235.5" r="1.5"/><circle cx="380.9" cy="254.8" r="1.5"/><circle cx="401.4" cy="185.0" r="1.6"/><circle cx="453.3" cy="180.2" r="1.6"/><circle cx="467.0" cy="218.3" r="1.6"/></g>
<path d="M167.7 249.1L174 248.3L180.6 248.6L184.7 249.1 M196.4 349L202.2 354L208.8 358.1L215.4 363.1L222.1 365.6L230.4 366.1L238.7 364.8L245.3 363.1L248.6 364.8L251.1 370.6L254.4 373.9L257.7 374.7L261.9 371.4L266.9 367.3L270.2 366.1 M221.2 332.4L219.6 331.6L218.8 327.4L220.4 325L225.4 323.3L233.7 324.1L242 323L248.6 321.6L251.9 320L259.4 318L263.6 317 M168.6 398.9L169.8 391.5L173.1 390.7L174 395.6L171.5 398.1L176.4 398.1L180.6 402.3L183.9 403.1L185.6 406.4L188.9 410.6L192.2 413.9L196.4 412.7L198 416.4L201.3 417.2L207.1 416.7 M212.1 416.4L217.1 413L223.7 408.1L230.4 403.1L237 398.9L243.6 394L247 391.5L251.1 388.2L253.6 384L260.2 381.5 M247 391.5L253.6 394L261.9 395.1 M276 411.4L271.8 413.9L266.9 416.4 M368.9 213.5L372 218.5L375.7 221 M427.1 174.8L429 179.2L428.1 181 M474.2 81.8L477.3 84.3L482.3 82.5L489.7 81.2L497.2 80L499.7 78.7 M318.7 222.4L324.9 224.3L331.1 226.8L336.1 229.3 M369.7 214.3L374.7 218.7L378.4 223.7L379.6 229.9L382.1 236.1L382.8 242.3L379.6 247.3L375.9 251L374.7 253.5 M299.9 250L307.3 253.7L314.8 254.3L319.8 255.6L326 253.7L332.2 251.2L339.7 250L347.2 250.6L354 249.4 M307.3 257.4L314.8 259.3L322.3 259.9L327.2 259.9L334.7 258.7L342.2 258.1L349.6 258.7L354 256.2 M311.7 264.9L319.8 264.3L324.8 262.7L332.2 264.3L339.7 263.7L347.2 263L354 261.2 M322.9 262.4L326.6 262.4L326.6 263.7L322.9 263.7 M307.3 297.3L309.8 292.9L309.8 290.4 M340 249.9L347.5 250.6L354.9 249.3L362.4 249.9L369.9 250.6L376.1 248.7L381.1 245.6L382.9 241.8L381.7 237.5L381.1 235 M340 259.3L346.2 258.6L351.2 255.5L357.4 254.3L364.9 254.9L371.1 255.5L376.1 254.9 M340 263.6L347.5 263.6L351.2 259.9L358.7 258L364.9 260.5L371.1 264.9L374.8 268.6L377.3 273.6L381.1 277.3L382.9 281L381.1 286L377.3 291L373.6 296 M382.3 257.4L388.5 261.1L393.5 265.5L397.9 268L401 272.3L404.7 277.3L403.5 282.3L402.2 286L404.7 289.8L406 296 M404.7 278.6L410.9 276.7L417.2 274.8L424 273 M428.5 180L426.7 186.2L425.4 192.4L424.2 198.7L422.9 204.9L424.2 211.1L424.8 217.3L427.3 223.6L429.8 228.5L433.5 232.3L438.5 232.3L441 234.8L441.6 241 M427.3 223.6L432.3 232.3L436 237.2L438.5 241 M376.1 290L372.4 293.7L369.2 297.5L366.8 302.4L364.9 307.4L362.4 311.8L363 317.4L362.4 321.1L358.7 325.5L353.7 328L347.5 330.4L340 332.3 M404.7 290L407.2 293.7L410.9 298.7L414.7 303.7L416.5 309.9L419 314.9L422.1 319.9L424 321.7 M424 357.4L420.9 361.2L417.2 364.9L413.4 368.6L409.7 371.1L404.7 373.6L401 376.1L397.2 378L394.8 380.5L392.9 383.6L391.6 387.3L391 391.7L387.3 394.8L384.2 397.3L383.6 401L384.2 406L384.8 414.7 M340 386.1L341.9 389.8L343.1 394.8L345.6 399.8L348.1 404.1L350 406L352.4 412.2 M471.6 166.7L470.9 175.2L470.3 179.1L465.7 182.4L460.5 185L452.6 186.3L446.1 187L443.5 189.6L435.7 190.9L427.8 192.2L425.2 193.5 M470.3 179.1L476.1 183.1L482.7 187L489.2 190.2L495.7 192.2L499.6 193.5L499 200L500.9 205.2L498.3 211.8L497 218.3L493.8 223.5L491.1 228.7L490.5 234 M460.5 185L464.4 190.9L469 194.8L471.6 198.7L472.2 203.9L472.9 208.5L469 210.5L467 215.7L465.7 222.2L465 227.4L469 228.7L470.3 232 M427.8 231.4L433.1 231.4L438.3 229.4L444.8 227.4L451.3 225.5L457.9 224.2L464.4 226.8L472.2 228.1L481.4 228.7L490.5 229.4L495.7 227.4L499.6 225.5L502.2 224.8 M427.8 228L431.7 231.9L437 235.8L439.6 241.1L441.5 246.3L442.8 248.2L448.7 248.9L455.2 250.2L461.8 250.8L466.3 252.2L467.7 256.1L471.6 258.7L474.8 259.3L477.4 257.4L481.4 255.4 M434.4 228L439.6 231.9L442.2 237.1L442.2 243.7L441.5 247.6L440.9 252.2L437 254.8L433.1 258L431.7 263.2L429.1 268.5L425.2 272.4L420 273 M487.9 228L490.5 230.6L488.5 233.9L489.2 237.1L493.1 236.9L498.3 236.5L501.6 237.1 M420 318.1L423.9 322.6L427.2 329.2L431.7 334.4L437 337L440.9 337.7L440.2 341.6L442.2 344.8L443.5 348.7L446.1 352L448.1 354 M440.2 341.6L436.3 343.5L435 347.4L430.4 350.7L425.2 352 M486.6 354L491.1 352.4L495.7 352.9 M260 316.9L265.2 313L271.7 308.4L277 304.5L283.5 301.9L288.7 303.8L293.9 303.2L299.2 301.2L303.1 301.9L305.7 298.6L309 296 M283.5 301.9L280.9 306.4L280.2 310.4L275.7 314.3L271.1 318.2L267.8 322.1L268.5 327.3L271.1 331.2L274.4 333.9L277.6 335.8L273.1 340.4L267.8 344.3L263.9 349.5L261.3 353.4L260 357.4 M348.1 331.2L340.9 332.6L333.1 334.5L329.2 335.8L329.8 341.7L331.1 346.9L329.2 350.8L326.6 354.7L324 358.7 M260 383.4L265.2 382.1L268.5 378.8L267.2 374.3L269.8 370.4L274.4 366.4L277.6 364.5L280.9 367.1L286.1 365.8L292.6 364.5L299.2 361.9 M269.8 365.8L265.2 369.1L261.3 373L260 374.3 M260 394.5L267.8 395.8L275.7 393.9L283.5 395.8L290 393.9L295.2 392.6L299.2 389.9L303.7 387.3L308.3 388.6L314.8 389.9L320.1 390.6L322.7 393.9L324.6 397.8L328.5 401L327.9 405.6L330.5 410.8L332.5 414.7L333.8 417.4 M320.7 363.8L324 369.1L325.3 373L322 374.9L325.3 377.5L330.5 377.5L334.4 380.2L338.3 384.1L340.9 388.6L342.9 393.9L345.5 399.1L348.1 401.7 M266.5 416.7L270.4 414.1L274.4 412.1L279.6 412.8L284.8 412.1L290 413.4L295.2 415.4L299.2 414.7L301.8 416.7 M440.6 340L443.2 346.9L447.4 353.7L451.7 358.9L456 361.4L462.9 359.7L468.9 358L474.9 359.7L479.2 356.3L485.2 353.7L492 352L497.2 354.6L500.6 357.2 M440.6 340L436.3 345.1L430.3 349.4L425.1 353.7L421.7 360.6L420 364 M468.9 358L472.3 364L474 369.2L476.6 374.3L474 379.5L476.6 386.3L480 391.5L480 398.3L476.6 403.5L474.9 410.3L472.3 416.3 M478.3 388L485.2 390.6L490.3 393.2L495.5 392.3L500.6 390.6" stroke="#a8a8a8" stroke-width="1"/>
</g>
<!-- grid -->
<g fill="none" stroke="#000" stroke-width="1" stroke-dasharray="1.5 2.47" clip-path="url(#mc)" shape-rendering="crispEdges">
<line x1="221.5" y1="79" x2="210.5" y2="417"/>
<line x1="297" y1="79" x2="293" y2="417"/>
<line x1="372.5" y1="79" x2="377.5" y2="417"/>
<line x1="448.5" y1="79" x2="460.5" y2="417"/>
<path d="M502 134.3 Q335 138.3 180 134.1"/>
<path d="M168 247.3 Q335 251.3 494 247.4"/>
<path d="M168 359.5 Q335 363.5 502 359.5"/>
</g>
<!-- frame -->
<g shape-rendering="crispEdges">
<rect x="164.5" y="75.5" width="341" height="345" fill="none" stroke="#000" stroke-width="1"/>
<rect x="167.5" y="78.5" width="335" height="339" fill="none" stroke="#000" stroke-width="1"/>
<rect x="165" y="76" width="340" height="2" fill="#fff"/>
<rect x="165" y="418" width="340" height="2" fill="#fff"/>
<rect x="165" y="76" width="2" height="344" fill="#fff"/>
<rect x="503" y="76" width="2" height="344" fill="#fff"/>
<!-- black segments top -->
<rect x="221" y="75" width="76" height="4" fill="#000"/>
<rect x="372" y="75" width="76" height="4" fill="#000"/>
<!-- bottom -->
<rect x="210" y="417" width="83" height="4" fill="#000"/>
<rect x="377" y="417" width="83" height="4" fill="#000"/>
<!-- left -->
<rect x="164" y="75" width="4" height="59" fill="#000"/>
<rect x="164" y="247" width="4" height="112" fill="#000"/>
<!-- right -->
<rect x="502" y="75" width="4" height="60" fill="#000"/>
<rect x="502" y="247" width="4" height="113" fill="#000"/>
</g>
<!-- axis labels -->
<g font-size="13.6" text-anchor="middle">
<text x="222" y="73">2</text><text x="296.5" y="73">4</text><text x="372.7" y="73">6</text><text x="449.2" y="73">8</text>
<text x="210" y="432">2</text><text x="292.5" y="432">4</text><text x="377" y="432">6</text><text x="460" y="432">8</text>
<text transform="translate(161,134) rotate(-90)">54</text>
<text transform="translate(161,247) rotate(-90)">52</text>
<text transform="translate(161,359) rotate(-90)">50</text>
<text transform="translate(508.3,134) rotate(90)">54</text>
<text transform="translate(508.3,247) rotate(90)">52</text>
<text transform="translate(508.3,359) rotate(90)">50</text>
</g>
<!-- colorbar -->
<rect x="13" y="447" width="643" height="15" fill="url(#cb)"/>
<g font-size="17.5" text-anchor="middle">
<text x="13.8" y="479.5">0</text><text x="77.8" y="479.5">1</text><text x="142.2" y="479.5">2</text><text x="206.5" y="479.5">3</text>
<text x="270.8" y="479.5">4</text><text x="335.1" y="479.5">5</text><text x="399.4" y="479.5">6</text><text x="463.7" y="479.5">7</text>
<text x="528" y="479.5">8</text><text x="592.3" y="479.5">9</text><text x="656.6" y="479.5">10</text>
</g>
</svg>
</body></html>
